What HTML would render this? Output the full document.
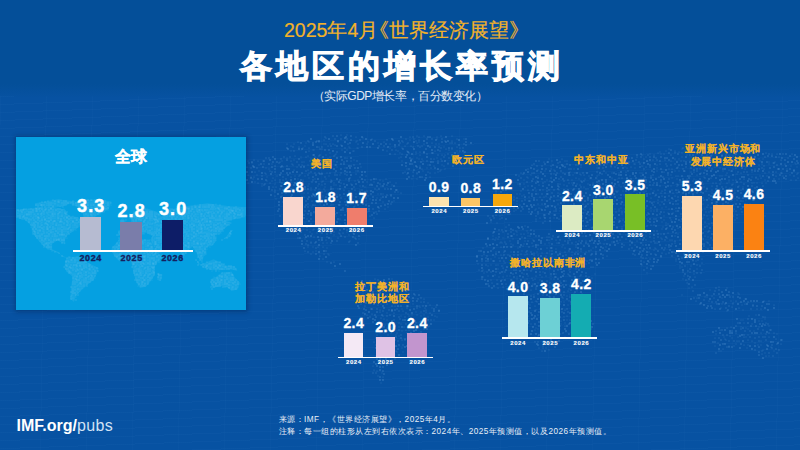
<!DOCTYPE html>
<html><head><meta charset="utf-8">
<style>
html,body{margin:0;padding:0;}
body{width:800px;height:450px;overflow:hidden;position:relative;background:#044f99;font-family:"Liberation Sans",sans-serif;}
.abs{position:absolute;}
.sub{position:absolute;left:284px;top:17.5px;color:#f2b22a;font-size:19.5px;line-height:24px;white-space:nowrap;-webkit-text-stroke:0.2px #f2b22a;}
.lb{margin-left:-9px;}
.title{position:absolute;left:0;width:800px;top:45.7px;text-align:center;color:#fff;font-size:32px;line-height:40px;font-weight:bold;letter-spacing:4px;text-indent:4px;white-space:nowrap;-webkit-text-stroke:1px #fff;}
.sub2{position:absolute;left:0;width:800px;top:87.8px;text-align:center;color:#e4ecf6;font-size:12px;letter-spacing:-0.45px;line-height:16px;white-space:nowrap;}
.gbox{position:absolute;left:16px;top:137px;width:230px;height:173px;background:#05a0e1;box-shadow:0 0 4px 1.5px rgba(0,25,70,0.35);}
.gt{position:absolute;left:16px;width:230px;top:146.5px;text-align:center;color:#fff;font-size:16px;line-height:20px;font-weight:bold;-webkit-text-stroke:0.2px #fff;}
.gbar{position:absolute;width:21.7px;}
.gnum{position:absolute;width:50px;text-align:center;color:#fff;font-size:18px;line-height:20px;font-weight:bold;letter-spacing:1.1px;-webkit-text-stroke:0.4px #fff;}
.gyr{position:absolute;width:40px;text-align:center;color:#14215f;font-size:9px;line-height:10px;font-weight:bold;letter-spacing:0.6px;-webkit-text-stroke:0.35px #14215f;}
.pt{position:absolute;width:120px;text-align:center;color:#f2b22a;font-size:10px;line-height:12px;font-weight:bold;letter-spacing:0.9px;white-space:nowrap;-webkit-text-stroke:0.1px #f2b22a;}
.bar{position:absolute;}
.num{position:absolute;width:40px;text-align:center;color:#fff;font-size:14px;line-height:16px;font-weight:bold;letter-spacing:0.4px;-webkit-text-stroke:0.3px #fff;}
.yr{position:absolute;width:30px;text-align:center;color:#fff;font-size:6px;line-height:8px;font-weight:bold;letter-spacing:0.6px;-webkit-text-stroke:0.1px #fff;}
.base{position:absolute;height:1.7px;background:#fff;}
.imf{position:absolute;left:16.5px;top:416px;color:#fff;font-size:16px;line-height:20px;white-space:nowrap;}
.imf b{font-weight:bold;}
.imf span{color:#d2e2f5;letter-spacing:0.4px;}
.fn{position:absolute;left:278.5px;color:#e8eef7;font-size:8.2px;line-height:10px;letter-spacing:0.5px;white-space:nowrap;}
</style></head><body>
<div class="abs" style="left:0;top:84px;width:800px;height:366px;background:linear-gradient(180deg,rgba(7,82,162,0) 0px,#0752a2 14px,#0752a2 100%)"></div>
<div class="abs" style="left:0;top:96px;width:800px;height:354px;background:repeating-linear-gradient(178deg,rgba(140,200,255,0.028) 0px,rgba(140,200,255,0.028) 1px,rgba(0,0,0,0) 1px,rgba(0,0,0,0) 8px),repeating-linear-gradient(91deg,rgba(140,200,255,0.02) 0px,rgba(140,200,255,0.02) 1px,rgba(0,0,0,0) 1px,rgba(0,0,0,0) 46px)"></div>
<svg class="abs" style="left:0;top:0" width="800" height="450"><path d="M347 135h0M437 137h0M357 141h0M363 138h0M410 140h0M416 141h0M437 139h0M464 139h0M294 144h0M306 143h0M324 144h0M330 144h0M338 142h0M356 142h0M367 144h0M368 142h0M378 143h0M407 144h0M419 142h0M436 144h0M439 144h0M303 148h0M305 146h0M349 147h0M350 148h0M357 148h0M390 148h0M444 147h0M712 147h0M736 148h0M291 151h0M313 150h0M314 150h0M322 149h0M342 150h0M347 150h0M354 151h0M387 151h0M398 151h0M457 151h0M660 152h0M666 151h0M679 152h0M682 149h0M715 151h0M721 150h0M730 149h0M326 155h0M330 153h0M335 155h0M336 154h0M400 153h0M416 154h0M458 154h0M464 153h0M650 154h0M661 154h0M682 153h0M687 155h0M697 154h0M712 155h0M716 155h0M718 153h0M735 154h0M744 153h0M311 159h0M330 157h0M399 158h0M417 158h0M419 159h0M437 158h0M460 157h0M549 159h0M646 157h0M679 159h0M682 157h0M691 157h0M701 157h0M747 157h0M759 159h0M763 159h0M779 157h0M263 161h0M282 161h0M294 160h0M304 162h0M316 162h0M334 161h0M354 160h0M402 161h0M423 161h0M552 161h0M565 161h0M567 161h0M671 161h0M696 161h0M716 161h0M719 161h0M722 161h0M760 161h0M769 162h0M773 163h0M775 162h0M795 163h0M252 163h0M259 165h0M264 164h0M272 164h0M308 165h0M311 164h0M329 166h0M428 165h0M442 165h0M597 165h0M607 164h0M634 164h0M657 165h0M715 165h0M722 165h0M733 164h0M754 165h0M769 164h0M791 166h0M796 164h0M266 168h0M269 169h0M283 167h0M337 167h0M345 168h0M361 167h0M407 169h0M422 169h0M427 168h0M441 170h0M445 169h0M538 170h0M551 169h0M554 170h0M574 169h0M597 168h0M611 167h0M625 167h0M635 168h0M657 168h0M669 169h0M700 169h0M715 167h0M720 168h0M733 169h0M787 169h0M797 167h0M243 172h0M259 171h0M309 173h0M322 173h0M327 173h0M335 173h0M356 171h0M423 171h0M435 173h0M438 172h0M545 171h0M570 172h0M575 173h0M606 173h0M612 173h0M619 173h0M640 173h0M657 171h0M675 171h0M679 171h0M723 171h0M752 172h0M765 173h0M257 175h0M267 177h0M277 176h0M295 176h0M305 176h0M329 176h0M340 175h0M366 176h0M417 174h0M519 176h0M531 175h0M538 176h0M554 174h0M573 175h0M581 175h0M589 176h0M597 176h0M599 175h0M630 176h0M641 176h0M671 175h0M676 176h0M678 176h0M720 176h0M722 176h0M726 175h0M737 174h0M752 177h0M760 176h0M767 176h0M790 175h0M241 180h0M253 179h0M267 181h0M298 179h0M309 178h0M315 179h0M326 179h0M346 179h0M355 181h0M358 180h0M383 181h0M386 179h0M412 179h0M417 179h0M524 180h0M528 178h0M537 181h0M547 180h0M572 180h0M579 179h0M672 178h0M677 179h0M765 180h0M779 179h0M248 183h0M255 182h0M262 184h0M272 181h0M275 184h0M291 182h0M297 182h0M309 184h0M322 182h0M334 183h0M351 184h0M367 182h0M371 184h0M374 182h0M396 183h0M518 184h0M524 184h0M545 182h0M572 183h0M588 184h0M637 183h0M680 182h0M689 182h0M703 184h0M721 182h0M729 182h0M741 182h0M754 183h0M757 183h0M766 183h0M262 186h0M287 188h0M298 185h0M302 187h0M318 186h0M322 185h0M325 187h0M334 185h0M336 185h0M360 186h0M365 187h0M392 185h0M502 187h0M520 186h0M525 187h0M528 186h0M564 185h0M619 185h0M621 187h0M629 185h0M642 188h0M671 186h0M684 186h0M697 186h0M702 187h0M704 187h0M717 188h0M730 188h0M739 186h0M743 187h0M302 191h0M311 190h0M319 189h0M325 191h0M338 189h0M360 190h0M377 190h0M498 189h0M521 191h0M536 191h0M543 190h0M559 190h0M588 189h0M596 189h0M607 189h0M618 191h0M623 191h0M644 191h0M651 189h0M654 191h0M701 190h0M706 191h0M712 190h0M720 189h0M725 191h0M741 190h0M302 193h0M304 193h0M334 194h0M337 195h0M356 194h0M378 194h0M383 194h0M398 192h0M499 194h0M507 194h0M517 194h0M520 194h0M524 195h0M538 194h0M565 193h0M582 193h0M602 195h0M629 194h0M677 193h0M733 194h0M735 193h0M747 194h0M760 193h0M282 196h0M295 198h0M323 196h0M329 198h0M345 199h0M351 196h0M360 198h0M368 196h0M377 198h0M381 198h0M522 196h0M544 197h0M582 197h0M625 197h0M655 196h0M682 198h0M276 199h0M338 200h0M359 202h0M366 201h0M370 199h0M383 202h0M394 201h0M499 201h0M509 202h0M559 200h0M601 200h0M678 200h0M731 201h0M746 200h0M284 204h0M295 205h0M320 204h0M333 205h0M351 204h0M355 206h0M517 204h0M564 203h0M599 205h0M624 205h0M640 205h0M660 205h0M685 204h0M692 204h0M287 207h0M301 207h0M312 207h0M322 207h0M336 207h0M342 209h0M363 209h0M388 207h0M508 209h0M536 209h0M541 209h0M548 207h0M571 207h0M574 209h0M593 207h0M615 209h0M630 207h0M644 209h0M646 208h0M662 208h0M666 207h0M669 209h0M705 209h0M726 207h0M323 213h0M367 212h0M506 213h0M516 210h0M560 211h0M585 210h0M644 210h0M651 211h0M654 211h0M668 213h0M687 213h0M697 213h0M706 212h0M709 212h0M729 210h0M285 214h0M298 217h0M336 216h0M500 216h0M502 215h0M576 216h0M578 216h0M597 214h0M607 215h0M612 216h0M622 214h0M640 214h0M664 216h0M697 215h0M707 216h0M718 214h0M725 216h0M765 216h0M285 219h0M299 219h0M301 219h0M307 219h0M334 220h0M490 218h0M500 219h0M544 217h0M554 218h0M593 219h0M608 219h0M619 220h0M626 218h0M636 219h0M645 217h0M664 220h0M671 220h0M691 217h0M697 219h0M708 219h0M735 220h0M305 223h0M324 222h0M326 222h0M340 224h0M360 223h0M491 222h0M497 223h0M561 221h0M573 224h0M600 222h0M611 222h0M662 222h0M666 223h0M668 224h0M709 224h0M715 223h0M288 227h0M305 226h0M338 226h0M342 227h0M360 226h0M525 226h0M588 225h0M596 225h0M610 227h0M622 227h0M643 226h0M663 227h0M722 227h0M301 230h0M313 230h0M318 230h0M336 229h0M516 231h0M527 231h0M570 228h0M582 231h0M608 228h0M625 230h0M637 230h0M662 229h0M691 228h0M698 230h0M755 229h0M310 232h0M312 234h0M317 233h0M347 232h0M517 232h0M528 233h0M572 233h0M590 235h0M597 235h0M599 234h0M607 232h0M618 233h0M628 232h0M678 234h0M696 232h0M702 234h0M314 237h0M334 235h0M349 235h0M493 236h0M496 238h0M503 238h0M517 235h0M528 236h0M547 237h0M574 235h0M583 236h0M626 235h0M634 238h0M635 237h0M646 236h0M661 238h0M675 236h0M691 237h0M708 237h0M718 237h0M305 239h0M311 242h0M331 239h0M350 241h0M359 239h0M498 239h0M501 242h0M510 241h0M513 239h0M525 241h0M533 240h0M576 242h0M579 241h0M608 239h0M612 242h0M680 240h0M693 242h0M721 239h0M327 243h0M500 243h0M502 243h0M511 244h0M524 244h0M545 244h0M549 243h0M683 244h0M689 243h0M308 247h0M313 247h0M327 248h0M512 247h0M518 248h0M556 249h0M562 247h0M569 249h0M593 248h0M606 247h0M656 249h0M718 249h0M313 252h0M316 251h0M496 252h0M511 252h0M522 251h0M537 252h0M542 253h0M550 251h0M560 252h0M572 252h0M576 252h0M578 251h0M586 252h0M635 250h0M649 252h0M679 252h0M328 254h0M329 255h0M482 256h0M501 255h0M525 255h0M538 255h0M551 255h0M666 254h0M491 259h0M495 257h0M511 257h0M528 259h0M543 258h0M551 257h0M571 258h0M592 260h0M327 262h0M510 263h0M526 262h0M583 261h0M676 261h0M693 261h0M696 261h0M478 264h0M488 266h0M491 265h0M498 265h0M578 265h0M586 264h0M642 265h0M651 266h0M680 266h0M682 267h0M691 266h0M483 270h0M498 269h0M527 270h0M536 269h0M546 269h0M569 270h0M680 268h0M697 269h0M484 273h0M524 274h0M543 272h0M556 274h0M595 274h0M647 273h0M694 274h0M483 277h0M488 276h0M495 275h0M499 277h0M503 277h0M507 276h0M510 276h0M517 277h0M528 276h0M542 277h0M551 276h0M580 276h0M684 276h0M370 281h0M381 281h0M392 279h0M396 281h0M502 280h0M512 280h0M517 279h0M540 280h0M551 279h0M566 281h0M590 280h0M683 279h0M374 284h0M498 284h0M511 284h0M514 284h0M517 285h0M538 283h0M557 285h0M687 283h0M371 286h0M374 287h0M387 286h0M522 288h0M528 288h0M553 286h0M569 289h0M579 287h0M689 288h0M727 288h0M378 289h0M387 290h0M524 291h0M527 290h0M548 291h0M577 291h0M710 290h0M398 295h0M405 294h0M534 295h0M567 296h0M570 295h0M682 295h0M738 293h0M366 297h0M370 299h0M381 299h0M384 298h0M402 299h0M574 299h0M578 297h0M705 297h0M707 297h0M722 298h0M745 299h0M409 302h0M428 303h0M524 303h0M537 302h0M543 301h0M553 302h0M561 302h0M564 302h0M569 301h0M575 303h0M731 301h0M733 303h0M769 301h0M370 304h0M381 304h0M413 304h0M419 306h0M530 305h0M546 306h0M568 305h0M722 304h0M733 304h0M742 305h0M402 309h0M432 308h0M525 310h0M536 310h0M540 309h0M542 309h0M572 308h0M721 308h0M743 310h0M387 313h0M408 314h0M416 312h0M421 312h0M576 313h0M727 311h0M367 315h0M401 316h0M412 315h0M417 315h0M421 316h0M424 315h0M428 317h0M437 317h0M564 317h0M572 315h0M749 316h0M756 315h0M387 320h0M409 321h0M434 320h0M547 319h0M549 320h0M567 320h0M575 318h0M585 320h0M741 320h0M743 320h0M759 321h0M762 321h0M765 319h0M381 322h0M385 325h0M388 324h0M401 324h0M420 322h0M531 324h0M550 324h0M561 324h0M565 323h0M744 323h0M752 324h0M399 327h0M414 326h0M428 327h0M536 328h0M549 327h0M572 326h0M741 327h0M746 328h0M759 327h0M769 326h0M380 329h0M392 329h0M394 330h0M402 331h0M535 330h0M538 329h0M560 329h0M748 329h0M754 331h0M380 333h0M384 333h0M388 335h0M391 333h0M396 335h0M397 333h0M407 333h0M408 334h0M544 333h0M556 335h0M716 334h0M748 335h0M777 334h0M381 337h0M391 338h0M399 336h0M532 338h0M535 337h0M538 336h0M542 337h0M724 337h0M732 338h0M746 337h0M385 342h0M552 343h0M718 343h0M755 343h0M557 345h0M715 346h0M734 346h0M736 344h0M748 345h0M758 345h0M761 345h0M402 348h0M546 348h0M549 350h0M747 348h0M763 350h0M397 352h0M403 352h0M719 351h0M721 351h0M765 353h0M774 351h0M394 356h0M769 356h0M392 360h0M377 371h0M382 373h0M378 376h0M381 383h0" stroke="#9fd4ff" stroke-opacity="0.15" stroke-width="1.3" stroke-linecap="round" fill="none"/><path d="M341 135h0M356 137h0M410 137h0M417 136h0M419 137h0M424 136h0M441 136h0M452 136h0M324 140h0M326 138h0M372 139h0M406 139h0M414 139h0M419 140h0M452 141h0M457 139h0M287 144h0M298 142h0M309 142h0M319 142h0M326 144h0M333 144h0M341 145h0M358 144h0M384 142h0M390 144h0M403 142h0M417 143h0M424 144h0M432 143h0M450 143h0M455 143h0M291 146h0M299 147h0M309 148h0M319 147h0M328 146h0M335 145h0M358 148h0M402 148h0M405 146h0M411 146h0M413 147h0M422 146h0M457 147h0M460 148h0M714 148h0M309 151h0M353 151h0M396 150h0M407 151h0M416 152h0M420 152h0M435 151h0M446 149h0M449 150h0M452 149h0M460 151h0M669 149h0M675 151h0M685 151h0M689 149h0M693 150h0M704 152h0M734 151h0M737 151h0M395 154h0M402 154h0M420 155h0M442 155h0M445 155h0M642 155h0M654 155h0M658 153h0M664 154h0M707 155h0M729 155h0M741 154h0M746 154h0M766 153h0M772 154h0M777 154h0M792 154h0M287 158h0M295 156h0M301 157h0M306 157h0M308 156h0M347 158h0M401 157h0M422 159h0M434 159h0M441 159h0M466 156h0M562 159h0M623 158h0M629 158h0M637 157h0M644 159h0M675 159h0M695 157h0M697 158h0M733 156h0M751 156h0M788 158h0M248 161h0M254 160h0M258 161h0M280 162h0M291 161h0M302 162h0M322 161h0M351 161h0M448 163h0M457 162h0M459 161h0M544 162h0M547 162h0M615 162h0M653 160h0M665 160h0M681 161h0M684 161h0M781 160h0M292 164h0M293 165h0M302 165h0M304 166h0M326 164h0M335 165h0M420 166h0M434 166h0M444 166h0M532 165h0M551 166h0M578 165h0M617 165h0M629 164h0M635 164h0M642 166h0M660 164h0M705 164h0M759 165h0M762 164h0M785 164h0M247 167h0M251 168h0M294 170h0M297 167h0M308 170h0M313 168h0M328 167h0M431 168h0M528 169h0M581 167h0M627 168h0M631 167h0M646 167h0M672 169h0M678 167h0M729 170h0M736 168h0M745 169h0M746 167h0M755 169h0M764 169h0M239 172h0M255 172h0M265 173h0M270 171h0M405 172h0M413 172h0M428 172h0M430 173h0M440 171h0M521 173h0M532 173h0M563 173h0M626 172h0M642 173h0M664 172h0M685 171h0M691 172h0M694 172h0M701 173h0M727 173h0M731 171h0M741 173h0M769 172h0M776 172h0M782 173h0M798 173h0M244 175h0M248 175h0M251 177h0M254 177h0M266 174h0M291 177h0M299 176h0M300 175h0M356 174h0M360 177h0M407 174h0M430 177h0M523 174h0M527 177h0M570 175h0M580 174h0M584 175h0M659 177h0M697 175h0M704 177h0M756 177h0M776 176h0M783 176h0M797 174h0M273 178h0M275 180h0M283 180h0M303 180h0M323 181h0M331 180h0M332 181h0M380 180h0M576 178h0M581 181h0M585 179h0M590 178h0M612 178h0M619 178h0M622 178h0M641 181h0M644 179h0M687 179h0M694 179h0M696 180h0M711 178h0M729 180h0M733 180h0M736 180h0M744 179h0M758 179h0M761 178h0M791 180h0M796 180h0M798 178h0M258 183h0M270 183h0M341 183h0M390 182h0M550 181h0M560 184h0M569 183h0M577 184h0M593 183h0M599 183h0M625 184h0M677 184h0M682 182h0M693 181h0M713 183h0M716 183h0M720 184h0M727 183h0M733 184h0M752 183h0M762 183h0M273 187h0M276 187h0M308 186h0M311 188h0M381 186h0M539 185h0M580 185h0M584 187h0M600 185h0M610 186h0M624 186h0M633 187h0M677 186h0M687 186h0M694 187h0M707 188h0M712 186h0M726 187h0M275 190h0M293 189h0M315 190h0M324 189h0M344 190h0M355 190h0M367 191h0M528 190h0M581 191h0M586 189h0M592 189h0M616 191h0M646 191h0M658 190h0M662 191h0M672 190h0M678 190h0M697 191h0M729 189h0M747 189h0M308 193h0M327 194h0M330 195h0M352 195h0M401 193h0M496 193h0M558 193h0M560 194h0M578 192h0M624 195h0M631 194h0M650 194h0M661 193h0M673 193h0M712 193h0M719 195h0M750 193h0M275 196h0M304 197h0M391 196h0M514 197h0M529 197h0M540 197h0M546 196h0M571 198h0M593 197h0M619 198h0M651 198h0M662 196h0M675 196h0M689 197h0M700 197h0M709 198h0M723 197h0M726 196h0M748 196h0M755 196h0M312 201h0M334 200h0M354 200h0M517 201h0M557 200h0M581 200h0M596 201h0M607 201h0M614 201h0M654 202h0M658 200h0M662 202h0M669 200h0M673 199h0M697 200h0M704 200h0M722 200h0M737 200h0M743 201h0M315 205h0M331 205h0M340 205h0M520 205h0M538 204h0M542 204h0M558 204h0M571 205h0M583 204h0M606 203h0M610 203h0M635 206h0M676 204h0M684 205h0M703 204h0M708 205h0M747 204h0M750 204h0M285 209h0M298 207h0M329 207h0M359 208h0M367 209h0M385 209h0M510 207h0M539 208h0M560 208h0M564 208h0M590 209h0M605 207h0M607 208h0M611 207h0M619 209h0M621 208h0M636 207h0M657 209h0M676 208h0M693 208h0M697 207h0M707 207h0M711 208h0M715 207h0M718 209h0M724 207h0M734 209h0M302 211h0M320 213h0M335 211h0M351 213h0M376 212h0M500 213h0M504 212h0M509 212h0M514 211h0M535 210h0M554 211h0M570 211h0M594 213h0M597 211h0M605 211h0M616 212h0M619 211h0M664 212h0M673 213h0M676 211h0M690 212h0M724 212h0M736 211h0M291 214h0M320 214h0M341 215h0M349 215h0M358 215h0M370 216h0M496 215h0M508 214h0M563 214h0M589 215h0M604 214h0M686 217h0M737 215h0M761 214h0M340 219h0M360 218h0M374 218h0M536 219h0M540 218h0M559 219h0M623 220h0M647 219h0M702 219h0M703 218h0M716 220h0M727 219h0M737 218h0M763 219h0M284 223h0M352 222h0M536 221h0M545 221h0M588 222h0M608 221h0M628 223h0M637 222h0M681 221h0M683 221h0M700 224h0M705 222h0M719 222h0M313 226h0M330 226h0M347 227h0M353 226h0M506 227h0M599 227h0M607 225h0M624 225h0M631 227h0M651 225h0M654 225h0M666 225h0M698 225h0M700 225h0M707 226h0M713 225h0M716 227h0M303 229h0M307 230h0M314 229h0M579 229h0M586 230h0M611 228h0M614 230h0M640 228h0M643 229h0M678 228h0M701 231h0M703 229h0M718 230h0M725 229h0M339 233h0M340 234h0M343 233h0M353 233h0M359 232h0M503 232h0M521 234h0M524 234h0M578 233h0M602 234h0M633 232h0M661 234h0M668 233h0M684 234h0M708 232h0M338 238h0M522 237h0M530 236h0M549 237h0M559 236h0M579 236h0M592 238h0M654 238h0M667 238h0M686 236h0M696 237h0M702 237h0M705 236h0M722 238h0M326 240h0M493 239h0M495 240h0M505 242h0M549 240h0M556 240h0M586 241h0M620 240h0M626 239h0M637 241h0M651 242h0M662 239h0M670 240h0M672 240h0M707 242h0M713 240h0M719 241h0M323 243h0M513 245h0M532 243h0M557 243h0M563 245h0M576 245h0M604 244h0M618 243h0M624 245h0M635 245h0M643 245h0M657 243h0M666 245h0M675 243h0M714 244h0M318 247h0M323 247h0M483 248h0M493 249h0M501 247h0M523 246h0M533 246h0M538 249h0M547 248h0M565 248h0M576 247h0M655 248h0M679 249h0M691 249h0M305 251h0M504 252h0M526 252h0M534 253h0M565 252h0M581 251h0M591 250h0M605 250h0M654 250h0M662 253h0M682 251h0M697 253h0M699 252h0M311 254h0M320 256h0M324 254h0M484 254h0M508 255h0M521 254h0M527 254h0M546 256h0M572 255h0M607 256h0M655 254h0M697 254h0M323 259h0M499 258h0M532 258h0M552 257h0M556 258h0M561 259h0M564 260h0M567 258h0M574 258h0M582 259h0M585 260h0M599 259h0M646 258h0M650 259h0M661 257h0M676 259h0M685 258h0M702 259h0M334 262h0M504 261h0M505 263h0M527 263h0M531 261h0M542 261h0M551 261h0M564 262h0M579 261h0M587 261h0M644 262h0M649 262h0M702 263h0M496 265h0M520 267h0M536 265h0M539 265h0M574 265h0M591 267h0M593 267h0M697 265h0M479 270h0M503 268h0M570 269h0M576 269h0M487 272h0M491 272h0M568 274h0M690 272h0M532 278h0M536 276h0M546 276h0M569 275h0M589 277h0M592 278h0M695 277h0M375 279h0M491 280h0M497 280h0M525 280h0M527 279h0M533 280h0M535 279h0M554 279h0M560 281h0M365 285h0M389 284h0M390 283h0M492 283h0M506 284h0M533 284h0M542 282h0M545 284h0M552 284h0M376 288h0M385 288h0M498 288h0M503 287h0M515 288h0M518 287h0M536 287h0M550 287h0M692 287h0M719 287h0M531 290h0M546 292h0M552 290h0M568 291h0M363 294h0M370 296h0M376 294h0M390 294h0M396 296h0M402 294h0M543 295h0M549 296h0M574 294h0M582 294h0M712 296h0M739 294h0M374 298h0M392 299h0M395 297h0M405 298h0M424 299h0M527 299h0M557 299h0M563 298h0M697 298h0M714 298h0M363 301h0M390 302h0M407 301h0M421 302h0M532 302h0M536 301h0M546 303h0M696 301h0M709 301h0M736 301h0M764 301h0M361 304h0M365 306h0M378 305h0M387 304h0M395 306h0M430 305h0M436 307h0M535 306h0M560 304h0M725 304h0M745 304h0M774 305h0M380 310h0M420 307h0M425 308h0M426 310h0M439 310h0M554 308h0M565 310h0M574 307h0M715 309h0M732 307h0M739 308h0M757 309h0M761 309h0M372 314h0M380 312h0M394 313h0M403 311h0M426 312h0M430 313h0M525 314h0M544 313h0M551 313h0M555 313h0M383 316h0M409 316h0M435 316h0M528 316h0M538 315h0M556 315h0M567 316h0M765 317h0M381 318h0M384 319h0M412 319h0M561 321h0M570 320h0M394 324h0M399 323h0M423 325h0M576 322h0M766 323h0M387 328h0M404 327h0M420 327h0M425 326h0M429 326h0M565 326h0M590 326h0M727 328h0M731 327h0M384 330h0M406 330h0M409 330h0M546 329h0M720 330h0M377 335h0M419 333h0M545 334h0M553 333h0M560 334h0M589 334h0M736 333h0M761 333h0M766 334h0M774 333h0M385 338h0M388 338h0M409 339h0M553 336h0M565 337h0M715 338h0M725 339h0M730 336h0M738 337h0M744 337h0M769 337h0M776 339h0M374 342h0M402 340h0M408 342h0M419 340h0M726 340h0M737 341h0M739 341h0M748 340h0M752 341h0M761 341h0M379 345h0M389 346h0M549 345h0M729 346h0M744 345h0M781 344h0M539 348h0M543 348h0M723 349h0M771 347h0M384 352h0M396 351h0M542 351h0M762 351h0M376 356h0M762 354h0M766 356h0M373 366h0M374 370h0M383 377h0" stroke="#9fd4ff" stroke-opacity="0.28" stroke-width="1.2" stroke-linecap="round" fill="none"/><path d="M325 137h0M333 136h0M413 137h0M308 141h0M317 141h0M335 139h0M341 139h0M347 139h0M360 140h0M375 141h0M387 140h0M402 141h0M427 139h0M432 139h0M442 139h0M445 141h0M348 144h0M400 143h0M408 143h0M452 143h0M464 144h0M293 147h0M322 147h0M331 146h0M345 148h0M362 147h0M379 146h0M384 146h0M395 147h0M418 146h0M420 147h0M439 147h0M441 148h0M452 148h0M463 148h0M683 148h0M687 148h0M693 147h0M703 147h0M719 147h0M294 151h0M320 149h0M337 152h0M392 150h0M440 151h0M707 152h0M749 151h0M313 155h0M320 155h0M409 153h0M424 153h0M427 154h0M433 153h0M438 155h0M448 154h0M648 155h0M671 155h0M675 153h0M690 155h0M722 155h0M726 155h0M750 153h0M769 154h0M783 154h0M266 158h0M269 158h0M281 159h0M284 157h0M290 157h0M315 157h0M319 156h0M334 156h0M345 158h0M412 159h0M431 159h0M444 157h0M449 158h0M452 156h0M463 157h0M641 157h0M650 157h0M656 158h0M714 159h0M739 157h0M765 157h0M297 162h0M310 161h0M337 162h0M344 162h0M357 161h0M427 161h0M438 161h0M442 161h0M454 163h0M539 161h0M560 162h0M619 161h0M626 162h0M629 162h0M636 160h0M639 162h0M657 160h0M733 162h0M243 165h0M249 163h0M275 166h0M279 163h0M287 166h0M299 165h0M315 164h0M322 164h0M354 165h0M360 164h0M448 164h0M534 164h0M537 166h0M542 166h0M558 163h0M567 164h0M576 165h0M581 165h0M600 165h0M611 166h0M614 163h0M640 164h0M666 164h0M667 166h0M671 165h0M675 164h0M691 165h0M693 165h0M697 165h0M702 164h0M727 163h0M739 164h0M744 166h0M748 164h0M764 166h0M777 165h0M240 169h0M257 168h0M320 167h0M323 168h0M330 167h0M546 169h0M569 169h0M571 169h0M603 168h0M615 167h0M644 169h0M650 167h0M683 169h0M686 167h0M691 168h0M697 169h0M705 170h0M709 168h0M712 169h0M762 168h0M272 172h0M275 172h0M306 171h0M311 172h0M315 173h0M319 173h0M330 173h0M341 173h0M347 172h0M358 171h0M403 173h0M417 173h0M534 173h0M555 171h0M557 173h0M561 171h0M583 173h0M597 172h0M604 171h0M628 171h0M697 171h0M738 172h0M744 172h0M747 172h0M781 173h0M262 176h0M283 177h0M308 175h0M325 177h0M335 175h0M337 175h0M345 174h0M347 175h0M413 176h0M422 177h0M551 174h0M561 177h0M602 174h0M651 176h0M653 175h0M663 177h0M668 175h0M690 176h0M748 175h0M794 176h0M280 180h0M286 179h0M313 180h0M340 180h0M350 178h0M365 180h0M371 180h0M376 179h0M521 178h0M533 179h0M551 178h0M559 179h0M568 180h0M669 179h0M705 178h0M756 178h0M769 178h0M774 179h0M786 179h0M265 184h0M280 182h0M282 183h0M303 182h0M312 182h0M319 184h0M325 184h0M344 184h0M349 181h0M380 184h0M527 182h0M543 183h0M558 184h0M564 181h0M584 181h0M642 182h0M646 182h0M650 182h0M654 183h0M661 182h0M698 184h0M708 181h0M744 184h0M768 181h0M264 185h0M282 186h0M290 185h0M331 187h0M340 186h0M354 187h0M387 185h0M535 188h0M559 187h0M567 186h0M573 185h0M581 187h0M636 187h0M639 186h0M650 185h0M653 185h0M660 186h0M678 185h0M690 185h0M722 187h0M732 185h0M752 186h0M755 188h0M763 186h0M272 190h0M280 189h0M286 190h0M333 189h0M349 191h0M362 190h0M375 189h0M385 189h0M388 189h0M397 190h0M496 191h0M547 191h0M549 190h0M554 190h0M610 190h0M634 191h0M665 190h0M670 191h0M694 189h0M752 191h0M757 190h0M275 192h0M286 193h0M322 192h0M340 195h0M361 194h0M381 194h0M387 195h0M395 192h0M542 194h0M548 194h0M552 193h0M597 193h0M601 194h0M617 192h0M637 194h0M644 193h0M665 193h0M697 193h0M721 193h0M730 194h0M762 194h0M341 198h0M511 196h0M517 198h0M561 198h0M563 197h0M574 197h0M621 198h0M638 196h0M643 198h0M669 196h0M678 197h0M693 196h0M703 198h0M716 197h0M732 197h0M283 202h0M306 201h0M345 202h0M392 202h0M506 201h0M514 200h0M522 201h0M525 200h0M530 201h0M537 200h0M577 201h0M626 199h0M627 201h0M635 200h0M642 201h0M650 202h0M712 200h0M716 202h0M741 201h0M306 205h0M308 204h0M313 205h0M348 206h0M391 204h0M499 204h0M511 204h0M515 206h0M569 206h0M588 204h0M643 205h0M653 205h0M658 203h0M678 204h0M716 204h0M723 204h0M725 206h0M728 203h0M292 208h0M308 207h0M326 208h0M352 209h0M354 207h0M373 209h0M379 208h0M504 209h0M514 208h0M523 209h0M556 209h0M583 209h0M625 209h0M651 208h0M682 208h0M688 208h0M689 209h0M730 208h0M741 209h0M284 212h0M288 213h0M297 211h0M305 211h0M369 211h0M379 211h0M521 211h0M529 212h0M556 211h0M563 212h0M583 213h0M600 211h0M608 213h0M622 212h0M640 211h0M648 213h0M657 211h0M702 210h0M711 211h0M727 213h0M733 211h0M742 212h0M280 216h0M286 214h0M293 216h0M301 214h0M308 214h0M322 214h0M377 214h0M488 216h0M510 214h0M536 216h0M538 214h0M545 215h0M554 215h0M568 216h0M600 214h0M626 215h0M629 214h0M647 215h0M660 214h0M681 214h0M690 217h0M693 215h0M704 215h0M713 216h0M733 216h0M311 219h0M320 220h0M349 220h0M355 218h0M361 218h0M494 218h0M502 218h0M550 218h0M564 218h0M580 218h0M590 220h0M628 218h0M631 220h0M640 219h0M654 219h0M656 219h0M670 218h0M719 220h0M729 219h0M288 221h0M293 221h0M311 224h0M330 222h0M334 221h0M363 222h0M543 223h0M579 222h0M596 221h0M632 222h0M639 222h0M643 222h0M693 221h0M712 223h0M723 221h0M731 221h0M761 223h0M291 225h0M297 227h0M315 225h0M362 225h0M509 225h0M575 226h0M583 226h0M593 227h0M617 227h0M630 226h0M640 226h0M647 226h0M673 227h0M685 225h0M691 227h0M692 225h0M719 226h0M290 229h0M293 230h0M297 228h0M323 229h0M333 229h0M356 231h0M358 229h0M499 230h0M502 230h0M513 230h0M534 231h0M592 228h0M595 229h0M617 228h0M628 230h0M646 230h0M651 231h0M654 231h0M657 231h0M667 228h0M682 229h0M709 231h0M305 235h0M327 234h0M334 232h0M493 233h0M508 234h0M511 232h0M514 234h0M585 233h0M624 232h0M643 235h0M650 234h0M676 233h0M686 232h0M724 233h0M726 234h0M744 234h0M298 238h0M327 237h0M345 237h0M355 238h0M499 237h0M536 236h0M553 236h0M570 236h0M596 236h0M604 237h0M611 237h0M639 236h0M650 237h0M658 237h0M711 238h0M307 241h0M337 241h0M349 242h0M356 239h0M528 241h0M560 240h0M565 241h0M568 241h0M570 240h0M605 240h0M632 242h0M640 239h0M646 240h0M654 241h0M665 240h0M675 241h0M687 241h0M691 242h0M306 244h0M308 245h0M311 243h0M315 243h0M331 243h0M358 243h0M506 244h0M538 245h0M572 243h0M588 244h0M600 243h0M630 245h0M655 243h0M672 244h0M692 244h0M696 244h0M708 243h0M710 245h0M316 248h0M487 246h0M529 247h0M552 248h0M629 249h0M632 248h0M647 248h0M665 248h0M669 247h0M698 249h0M702 248h0M708 249h0M712 248h0M308 252h0M326 251h0M479 251h0M527 251h0M531 252h0M547 253h0M552 251h0M569 251h0M589 251h0M596 252h0M664 250h0M674 252h0M687 250h0M703 252h0M487 256h0M504 255h0M514 255h0M534 255h0M566 255h0M591 255h0M603 255h0M633 254h0M635 255h0M642 255h0M669 253h0M672 256h0M684 254h0M486 258h0M523 259h0M590 260h0M641 257h0M643 258h0M682 258h0M691 259h0M698 260h0M482 261h0M486 261h0M488 261h0M493 261h0M500 261h0M515 262h0M535 262h0M539 262h0M545 263h0M553 261h0M567 262h0M589 263h0M596 263h0M641 261h0M486 265h0M502 266h0M524 266h0M549 266h0M567 266h0M685 266h0M700 266h0M511 268h0M514 270h0M516 270h0M532 269h0M558 270h0M581 268h0M644 270h0M647 268h0M688 271h0M690 269h0M702 270h0M482 271h0M496 272h0M505 272h0M513 274h0M522 273h0M531 271h0M540 272h0M564 274h0M570 272h0M586 273h0M683 272h0M697 273h0M701 273h0M540 275h0M556 277h0M570 276h0M581 275h0M586 276h0M688 276h0M378 280h0M482 279h0M547 281h0M575 279h0M579 279h0M686 280h0M382 283h0M399 284h0M488 284h0M497 284h0M520 283h0M550 283h0M561 283h0M563 285h0M571 283h0M575 284h0M587 284h0M695 285h0M393 288h0M401 286h0M406 287h0M509 287h0M547 289h0M558 287h0M561 286h0M570 286h0M584 286h0M716 288h0M392 291h0M396 291h0M403 290h0M536 289h0M540 292h0M556 291h0M560 292h0M564 292h0M571 290h0M693 291h0M715 291h0M719 290h0M387 295h0M415 295h0M524 294h0M531 296h0M553 293h0M564 295h0M579 295h0M729 295h0M397 297h0M418 299h0M421 298h0M544 299h0M550 297h0M562 297h0M570 297h0M694 298h0M730 297h0M733 297h0M359 300h0M368 301h0M380 301h0M384 303h0M399 302h0M424 302h0M704 300h0M712 302h0M716 302h0M723 302h0M748 302h0M392 306h0M423 306h0M524 305h0M551 306h0M571 304h0M576 306h0M700 304h0M717 304h0M729 306h0M753 306h0M753 305h0M762 306h0M371 309h0M377 309h0M389 310h0M397 309h0M407 308h0M417 308h0M527 310h0M550 310h0M558 308h0M567 309h0M726 308h0M751 309h0M363 313h0M383 311h0M399 311h0M406 313h0M424 311h0M529 312h0M555 312h0M562 312h0M568 312h0M370 317h0M387 316h0M390 315h0M399 317h0M405 317h0M546 316h0M763 317h0M394 320h0M400 319h0M423 320h0M431 320h0M529 321h0M553 318h0M589 319h0M748 319h0M406 324h0M416 323h0M541 323h0M569 324h0M589 323h0M593 324h0M738 323h0M768 324h0M586 326h0M736 326h0M399 330h0M421 332h0M424 329h0M553 331h0M585 330h0M591 329h0M716 331h0M722 330h0M732 331h0M741 329h0M745 331h0M750 331h0M758 329h0M763 330h0M770 330h0M771 330h0M401 335h0M416 334h0M422 335h0M563 333h0M723 335h0M727 335h0M744 335h0M769 333h0M419 339h0M424 337h0M546 338h0M719 338h0M750 337h0M755 338h0M759 337h0M763 337h0M765 337h0M377 341h0M381 341h0M391 342h0M398 341h0M405 340h0M535 342h0M538 342h0M557 342h0M729 341h0M734 341h0M759 341h0M766 340h0M782 340h0M376 345h0M393 346h0M403 345h0M543 346h0M553 344h0M772 345h0M777 344h0M381 349h0M387 348h0M392 347h0M727 347h0M755 350h0M772 348h0M776 349h0M779 350h0M378 352h0M716 353h0M769 353h0M777 353h0M383 357h0M773 356h0M383 360h0M395 359h0M387 362h0M390 364h0M373 373h0M376 373h0" stroke="#9fd4ff" stroke-opacity="0.42" stroke-width="1.0" stroke-linecap="round" fill="none"/><path d="M337 136h0M351 136h0M428 137h0M430 137h0M351 140h0M371 140h0M393 140h0M399 141h0M466 139h0M301 143h0M313 143h0M316 142h0M350 143h0M381 144h0M386 144h0M427 143h0M442 142h0M459 145h0M466 142h0M287 148h0M317 147h0M337 146h0M370 147h0M399 145h0M430 147h0M435 147h0M449 148h0M466 145h0M708 146h0M721 147h0M739 148h0M306 152h0M325 150h0M329 150h0M383 150h0M403 149h0M426 149h0M438 150h0M465 152h0M671 150h0M697 152h0M700 150h0M712 151h0M726 150h0M390 154h0M407 155h0M432 153h0M637 155h0M641 154h0M669 153h0M678 154h0M693 155h0M702 155h0M703 153h0M736 154h0M786 154h0M273 157h0M299 159h0M328 159h0M410 158h0M632 158h0M654 157h0M661 157h0M665 158h0M667 158h0M705 158h0M708 158h0M711 156h0M718 159h0M768 156h0M772 156h0M776 157h0M782 158h0M790 156h0M794 159h0M241 161h0M252 162h0M264 161h0M270 160h0M273 162h0M277 162h0M287 160h0M319 161h0M326 160h0M330 162h0M342 160h0M347 161h0M411 160h0M421 162h0M433 162h0M536 161h0M609 162h0M660 161h0M669 160h0M686 162h0M692 160h0M699 162h0M705 161h0M711 161h0M740 162h0M754 162h0M767 162h0M785 160h0M797 161h0M241 164h0M253 166h0M261 164h0M269 164h0M282 166h0M336 165h0M341 164h0M344 164h0M351 166h0M406 166h0M412 164h0M430 165h0M438 163h0M453 166h0M545 164h0M553 165h0M570 165h0M650 165h0M679 165h0M682 165h0M711 165h0M718 165h0M737 164h0M750 165h0M774 163h0M798 163h0M263 167h0M272 167h0M275 169h0M281 167h0M301 167h0M304 167h0M315 169h0M341 169h0M347 168h0M355 168h0M409 169h0M414 170h0M417 167h0M435 168h0M526 170h0M534 169h0M565 167h0M640 167h0M661 169h0M677 168h0M694 170h0M723 169h0M752 170h0M770 168h0M774 167h0M778 169h0M783 169h0M790 169h0M794 170h0M281 173h0M287 173h0M290 173h0M302 173h0M336 171h0M350 172h0M524 173h0M537 171h0M541 172h0M614 173h0M646 173h0M652 171h0M654 172h0M662 172h0M668 173h0M704 173h0M732 171h0M755 171h0M758 171h0M773 172h0M792 173h0M794 171h0M239 175h0M288 175h0M313 177h0M316 175h0M320 174h0M322 174h0M409 177h0M420 177h0M426 175h0M516 175h0M545 176h0M565 174h0M569 175h0M592 175h0M608 175h0M616 174h0M619 175h0M635 176h0M645 177h0M682 176h0M688 176h0M692 174h0M707 174h0M729 177h0M763 176h0M780 175h0M786 176h0M245 181h0M251 178h0M258 179h0M266 180h0M426 178h0M542 179h0M563 179h0M596 178h0M615 180h0M627 179h0M631 179h0M636 178h0M651 178h0M661 180h0M683 179h0M689 178h0M700 179h0M716 178h0M740 179h0M749 179h0M751 180h0M316 182h0M331 182h0M356 184h0M363 182h0M378 183h0M384 184h0M532 181h0M536 183h0M582 182h0M597 182h0M623 183h0M640 184h0M657 183h0M668 182h0M673 183h0M687 183h0M702 182h0M776 183h0M294 185h0M352 185h0M363 186h0M370 185h0M377 186h0M495 187h0M505 188h0M532 186h0M543 186h0M547 188h0M549 185h0M558 186h0M590 185h0M593 185h0M602 188h0M606 185h0M668 186h0M717 186h0M738 187h0M757 187h0M283 190h0M291 189h0M305 189h0M308 189h0M352 189h0M379 189h0M503 190h0M506 190h0M533 190h0M540 190h0M558 189h0M573 190h0M574 189h0M626 191h0M629 190h0M641 190h0M676 190h0M690 191h0M707 189h0M743 189h0M282 193h0M292 195h0M294 192h0M298 192h0M313 194h0M344 194h0M349 193h0M360 192h0M365 192h0M371 194h0M391 195h0M501 192h0M529 193h0M532 194h0M575 195h0M586 193h0M594 193h0M607 193h0M611 195h0M621 195h0M647 194h0M656 195h0M683 193h0M689 193h0M693 194h0M701 192h0M703 193h0M709 195h0M714 194h0M741 193h0M745 195h0M753 192h0M297 199h0M309 197h0M312 196h0M320 197h0M326 197h0M334 198h0M349 198h0M356 197h0M363 196h0M366 198h0M373 197h0M383 197h0M495 197h0M508 196h0M532 196h0M534 198h0M551 197h0M554 196h0M579 197h0M596 197h0M635 197h0M647 196h0M686 196h0M697 197h0M711 196h0M730 197h0M739 198h0M743 198h0M288 201h0M301 201h0M308 199h0M327 200h0M340 202h0M351 202h0M376 200h0M380 200h0M389 201h0M529 201h0M542 200h0M550 199h0M571 201h0M585 201h0M588 200h0M591 201h0M633 201h0M665 200h0M676 201h0M688 201h0M694 202h0M701 202h0M732 200h0M754 200h0M288 205h0M290 203h0M324 205h0M346 205h0M358 205h0M366 205h0M372 203h0M376 203h0M381 206h0M385 205h0M388 204h0M534 205h0M561 203h0M574 204h0M579 206h0M586 206h0M598 205h0M605 205h0M621 204h0M630 206h0M633 203h0M647 206h0M652 203h0M664 204h0M673 204h0M701 204h0M717 205h0M736 204h0M745 204h0M279 209h0M305 207h0M320 208h0M333 209h0M343 208h0M522 207h0M546 207h0M585 207h0M633 207h0M655 207h0M278 211h0M290 212h0M311 213h0M314 212h0M337 213h0M343 210h0M347 211h0M363 212h0M374 213h0M538 212h0M545 210h0M568 213h0M573 212h0M578 210h0M625 212h0M629 212h0M637 212h0M661 212h0M678 211h0M683 211h0M715 212h0M304 215h0M326 216h0M329 214h0M335 214h0M352 215h0M354 215h0M363 216h0M366 214h0M372 215h0M493 216h0M544 215h0M549 214h0M561 216h0M573 216h0M592 214h0M631 216h0M636 214h0M649 214h0M657 215h0M672 214h0M683 217h0M287 220h0M291 218h0M295 220h0M322 219h0M330 220h0M338 219h0M366 219h0M506 219h0M557 218h0M575 219h0M582 218h0M650 219h0M679 220h0M682 219h0M694 220h0M723 218h0M757 218h0M299 224h0M317 223h0M345 223h0M349 222h0M355 222h0M564 221h0M575 222h0M583 221h0M587 222h0M605 223h0M619 222h0M620 221h0M625 222h0M648 221h0M650 222h0M654 222h0M686 223h0M758 221h0M302 226h0M307 227h0M323 226h0M528 227h0M571 227h0M579 226h0M602 225h0M636 225h0M683 226h0M705 227h0M754 225h0M326 230h0M340 230h0M347 230h0M506 231h0M511 229h0M523 229h0M531 230h0M576 230h0M589 230h0M605 229h0M622 229h0M672 229h0M675 230h0M687 229h0M695 230h0M710 228h0M715 229h0M722 229h0M294 232h0M298 234h0M301 232h0M320 232h0M322 233h0M499 234h0M549 234h0M594 233h0M613 234h0M620 234h0M636 233h0M658 234h0M664 234h0M673 232h0M689 234h0M703 233h0M712 234h0M718 232h0M322 238h0M341 236h0M353 237h0M359 236h0M488 238h0M508 237h0M511 236h0M512 236h0M525 238h0M539 236h0M542 238h0M599 238h0M622 237h0M628 236h0M644 238h0M666 237h0M693 238h0M716 237h0M302 241h0M316 242h0M319 240h0M518 241h0M534 241h0M547 240h0M552 239h0M582 241h0M592 240h0M617 241h0M630 241h0M703 239h0M552 244h0M559 243h0M568 243h0M581 243h0M586 243h0M594 243h0M607 244h0M622 244h0M632 243h0M641 243h0M646 245h0M660 245h0M669 245h0M680 244h0M686 243h0M702 244h0M704 244h0M304 248h0M507 247h0M520 247h0M536 247h0M581 249h0M584 246h0M596 247h0M603 248h0M622 247h0M644 249h0M650 248h0M662 248h0M671 246h0M686 247h0M704 246h0M481 251h0M491 251h0M505 251h0M518 252h0M640 252h0M643 251h0M658 251h0M670 250h0M316 254h0M493 255h0M496 254h0M510 256h0M518 255h0M532 254h0M552 254h0M558 255h0M575 254h0M578 254h0M581 256h0M592 254h0M647 255h0M651 254h0M656 255h0M695 254h0M477 257h0M518 260h0M603 258h0M693 260h0M331 263h0M477 261h0M494 261h0M556 261h0M657 262h0M687 262h0M689 262h0M482 265h0M511 266h0M513 267h0M517 266h0M529 267h0M544 265h0M556 264h0M559 265h0M563 266h0M571 265h0M653 266h0M345 271h0M506 270h0M520 271h0M543 268h0M550 268h0M554 271h0M564 271h0M579 270h0M694 271h0M500 273h0M502 272h0M516 273h0M527 274h0M545 273h0M551 274h0M574 274h0M582 272h0M685 274h0M482 277h0M514 277h0M523 277h0M555 277h0M690 277h0M389 279h0M485 280h0M505 280h0M511 280h0M558 279h0M689 279h0M363 284h0M375 284h0M383 284h0M393 284h0M566 285h0M581 283h0M689 284h0M394 287h0M489 286h0M492 288h0M494 286h0M507 289h0M524 286h0M542 287h0M576 287h0M370 290h0M373 292h0M380 291h0M383 291h0M542 291h0M575 292h0M722 292h0M729 292h0M372 294h0M414 294h0M419 295h0M527 296h0M538 294h0M556 294h0M698 295h0M707 295h0M714 294h0M719 294h0M362 299h0M377 298h0M524 297h0M534 297h0M547 299h0M554 297h0M567 299h0M699 298h0M720 297h0M738 297h0M740 298h0M366 303h0M395 301h0M402 302h0M413 301h0M417 301h0M528 302h0M557 301h0M571 302h0M718 300h0M741 302h0M751 301h0M401 306h0M408 306h0M417 306h0M437 305h0M528 304h0M558 307h0M708 306h0M711 306h0M757 306h0M767 304h0M769 304h0M359 308h0M364 309h0M366 310h0M372 309h0M395 310h0M414 309h0M434 309h0M712 308h0M720 309h0M728 310h0M377 312h0M392 311h0M434 311h0M531 313h0M539 312h0M564 313h0M570 313h0M375 315h0M376 317h0M382 315h0M432 315h0M541 315h0M548 315h0M554 315h0M560 317h0M759 315h0M403 320h0M421 321h0M428 320h0M534 318h0M564 320h0M373 322h0M411 325h0M413 322h0M427 324h0M535 324h0M539 322h0M558 322h0M586 323h0M740 323h0M748 323h0M760 324h0M763 324h0M384 327h0M391 327h0M410 326h0M539 326h0M544 326h0M552 327h0M560 326h0M743 328h0M751 326h0M756 326h0M765 325h0M427 329h0M551 331h0M590 332h0M736 331h0M426 334h0M551 335h0M569 334h0M752 333h0M376 338h0M396 337h0M401 338h0M405 339h0M416 337h0M551 338h0M560 338h0M386 342h0M395 340h0M417 342h0M544 341h0M713 342h0M715 342h0M721 340h0M773 342h0M781 340h0M384 346h0M399 345h0M545 344h0M723 344h0M741 344h0M767 345h0M384 349h0M398 349h0M409 348h0M555 347h0M729 347h0M732 347h0M759 347h0M387 352h0M392 351h0M759 352h0M389 356h0M759 355h0M377 359h0M380 359h0M381 364h0M383 367h0M383 371h0M384 374h0M380 377h0" stroke="#9fd4ff" stroke-opacity="0.6" stroke-width="1.0" stroke-linecap="round" fill="none"/><path d="M346 137h0M362 137h0M401 137h0M446 137h0M311 139h0M319 141h0M329 139h0M338 141h0M345 138h0M366 139h0M392 139h0M424 141h0M436 140h0M448 141h0M459 140h0M345 142h0M363 143h0M373 144h0M395 145h0M414 142h0M446 142h0M471 143h0M313 145h0M342 146h0M367 147h0M378 148h0M388 147h0M428 146h0M696 148h0M700 147h0M288 149h0M299 149h0M302 149h0M333 151h0M345 152h0M408 152h0M414 149h0M424 152h0M432 150h0M463 151h0M720 151h0M745 151h0M751 151h0M314 155h0M350 153h0M412 154h0M452 155h0M455 153h0M754 153h0M758 155h0M763 154h0M780 154h0M795 155h0M275 159h0M323 157h0M337 158h0M341 157h0M351 158h0M406 157h0M427 157h0M457 157h0M625 159h0M673 158h0M686 157h0M722 156h0M727 157h0M730 157h0M737 159h0M744 158h0M755 157h0M797 157h0M244 161h0M313 162h0M406 163h0M411 161h0M415 162h0M431 162h0M445 161h0M548 162h0M557 160h0M608 162h0M621 160h0M633 161h0M644 163h0M647 161h0M650 160h0M677 162h0M690 162h0M709 162h0M726 161h0M730 160h0M735 162h0M745 160h0M748 160h0M752 161h0M762 162h0M788 162h0M792 162h0M320 165h0M349 166h0M402 165h0M410 164h0M416 166h0M423 164h0M562 165h0M563 166h0M604 165h0M622 165h0M626 164h0M648 164h0M655 164h0M686 164h0M709 163h0M729 165h0M781 164h0M786 166h0M243 167h0M254 167h0M287 169h0M289 169h0M334 169h0M350 168h0M358 168h0M420 168h0M438 169h0M531 168h0M542 169h0M557 167h0M560 168h0M578 169h0M599 168h0M606 167h0M618 168h0M623 168h0M654 169h0M666 170h0M725 169h0M742 168h0M759 169h0M779 169h0M247 172h0M252 172h0M262 173h0M283 171h0M293 172h0M297 172h0M345 171h0M362 172h0M365 172h0M408 173h0M419 172h0M528 172h0M550 171h0M569 173h0M577 173h0M587 173h0M600 173h0M621 172h0M633 173h0M636 173h0M672 172h0M684 171h0M707 171h0M711 171h0M716 172h0M718 171h0M763 171h0M787 171h0M271 174h0M280 175h0M351 175h0M362 175h0M536 177h0M543 174h0M556 175h0M610 177h0M621 175h0M626 175h0M633 174h0M643 175h0M661 176h0M700 174h0M712 176h0M714 175h0M733 175h0M742 177h0M744 177h0M769 177h0M773 175h0M247 180h0M262 179h0M291 180h0M295 179h0M301 180h0M318 179h0M337 179h0M349 179h0M362 179h0M374 179h0M407 179h0M425 180h0M518 180h0M538 178h0M554 180h0M556 178h0M591 178h0M599 181h0M602 180h0M606 180h0M627 178h0M646 180h0M653 180h0M656 179h0M664 179h0M680 180h0M709 179h0M720 180h0M722 179h0M725 179h0M775 181h0M784 178h0M252 182h0M287 182h0M295 183h0M300 182h0M339 182h0M359 182h0M388 183h0M499 184h0M520 184h0M538 182h0M552 182h0M574 183h0M603 184h0M606 182h0M612 183h0M615 184h0M618 182h0M628 183h0M633 181h0M665 183h0M737 182h0M748 181h0M773 181h0M269 187h0M281 186h0M305 187h0M316 188h0M345 187h0M347 185h0M372 185h0M383 186h0M394 186h0M500 187h0M552 187h0M576 186h0M596 187h0M614 186h0M647 188h0M657 185h0M666 187h0M748 186h0M269 189h0M298 191h0M331 189h0M340 189h0M371 191h0M391 189h0M396 190h0M523 189h0M564 190h0M568 190h0M579 189h0M600 190h0M603 189h0M637 190h0M684 191h0M686 189h0M716 189h0M723 189h0M732 189h0M738 191h0M271 195h0M278 194h0M314 195h0M319 193h0M373 192h0M536 194h0M547 194h0M566 194h0M571 194h0M590 195h0M614 194h0M640 193h0M653 193h0M670 192h0M679 192h0M686 194h0M727 195h0M281 197h0M286 198h0M291 197h0M302 197h0M315 196h0M337 197h0M386 197h0M394 198h0M398 198h0M525 197h0M558 196h0M569 197h0M584 196h0M588 198h0M600 196h0M605 198h0M607 197h0M610 197h0M615 197h0M627 196h0M632 197h0M659 197h0M665 197h0M672 198h0M718 196h0M737 197h0M751 196h0M279 202h0M289 202h0M294 202h0M297 202h0M316 201h0M318 202h0M322 200h0M329 200h0M347 201h0M362 200h0M373 200h0M534 200h0M547 201h0M554 201h0M563 201h0M569 200h0M576 200h0M603 200h0M610 200h0M617 200h0M622 202h0M639 202h0M647 201h0M682 202h0M691 200h0M707 200h0M717 202h0M726 202h0M753 200h0M279 205h0M297 205h0M302 203h0M327 204h0M339 205h0M363 204h0M369 206h0M504 204h0M506 203h0M524 204h0M527 206h0M531 205h0M545 204h0M548 206h0M552 206h0M592 204h0M613 204h0M617 204h0M670 203h0M689 203h0M698 205h0M712 203h0M733 205h0M740 204h0M293 207h0M316 209h0M347 209h0M369 209h0M378 207h0M500 209h0M518 208h0M529 209h0M532 207h0M555 207h0M569 208h0M578 207h0M595 209h0M599 209h0M640 209h0M672 209h0M679 208h0M701 208h0M738 207h0M743 207h0M293 210h0M309 211h0M327 212h0M330 211h0M341 210h0M354 212h0M358 211h0M532 212h0M542 210h0M550 212h0M588 212h0M612 212h0M634 211h0M694 212h0M720 212h0M311 215h0M316 216h0M345 215h0M531 214h0M555 215h0M582 216h0M587 214h0M613 215h0M619 215h0M644 217h0M653 214h0M669 214h0M676 216h0M699 214h0M714 217h0M723 216h0M729 216h0M304 218h0M317 218h0M328 218h0M345 220h0M350 217h0M491 220h0M545 218h0M569 219h0M571 220h0M586 218h0M596 220h0M600 220h0M604 219h0M610 220h0M615 218h0M661 218h0M676 219h0M688 219h0M713 217h0M289 224h0M300 221h0M309 221h0M318 222h0M337 222h0M487 223h0M550 221h0M568 222h0M594 221h0M614 222h0M657 221h0M672 222h0M675 222h0M689 222h0M698 221h0M726 223h0M293 225h0M319 227h0M326 225h0M333 225h0M346 225h0M354 225h0M518 227h0M522 227h0M586 226h0M614 225h0M656 226h0M670 226h0M677 226h0M680 227h0M759 226h0M331 230h0M344 229h0M352 231h0M495 229h0M519 228h0M600 231h0M633 229h0M666 229h0M750 231h0M331 233h0M354 234h0M494 232h0M531 234h0M534 234h0M574 232h0M582 233h0M611 233h0M640 234h0M646 232h0M654 235h0M692 232h0M717 232h0M300 238h0M306 237h0M308 236h0M311 236h0M318 237h0M329 238h0M558 237h0M569 238h0M586 236h0M590 235h0M607 235h0M614 238h0M618 237h0M672 236h0M678 237h0M683 236h0M322 240h0M332 241h0M488 239h0M520 239h0M539 240h0M541 241h0M590 241h0M595 241h0M599 241h0M614 242h0M643 240h0M659 242h0M683 241h0M698 239h0M701 240h0M715 241h0M302 244h0M319 245h0M356 245h0M486 244h0M490 245h0M493 244h0M497 245h0M518 243h0M521 245h0M527 244h0M536 245h0M541 243h0M578 244h0M598 244h0M610 245h0M615 245h0M649 245h0M720 245h0M494 248h0M504 247h0M511 247h0M541 249h0M551 248h0M570 249h0M578 248h0M589 246h0M601 247h0M609 249h0M637 247h0M640 248h0M676 246h0M684 248h0M694 247h0M715 248h0M319 252h0M324 251h0M484 252h0M488 252h0M499 252h0M514 252h0M556 252h0M600 250h0M607 251h0M634 251h0M647 252h0M672 252h0M689 252h0M693 251h0M709 251h0M477 256h0M541 256h0M560 254h0M563 256h0M585 254h0M596 254h0M601 254h0M639 254h0M661 256h0M676 253h0M678 256h0M686 255h0M689 255h0M319 259h0M326 257h0M482 259h0M488 259h0M502 258h0M506 258h0M512 258h0M521 259h0M534 259h0M539 258h0M545 260h0M577 259h0M596 259h0M654 259h0M658 260h0M679 259h0M516 262h0M519 262h0M561 262h0M570 262h0M576 261h0M592 261h0M599 263h0M648 261h0M654 262h0M680 262h0M682 263h0M335 266h0M340 264h0M507 267h0M533 266h0M545 265h0M554 267h0M583 266h0M597 265h0M641 264h0M647 264h0M694 264h0M482 268h0M489 270h0M493 271h0M496 269h0M524 270h0M539 268h0M561 269h0M651 269h0M683 270h0M511 273h0M536 272h0M554 274h0M562 272h0M577 272h0M493 276h0M520 276h0M561 277h0M563 276h0M575 277h0M362 281h0M384 280h0M488 281h0M501 281h0M521 280h0M542 281h0M564 281h0M572 280h0M583 281h0M587 279h0M693 280h0M370 285h0M486 284h0M502 284h0M525 283h0M529 283h0M535 284h0M578 284h0M365 286h0M382 288h0M398 286h0M532 286h0M537 286h0M564 287h0M583 287h0M363 291h0M367 290h0M398 292h0M406 291h0M409 290h0M581 292h0M726 290h0M366 295h0M380 293h0M383 294h0M409 294h0M547 295h0M561 295h0M700 295h0M704 293h0M723 295h0M727 295h0M733 293h0M387 297h0M409 297h0M413 298h0M531 299h0M538 299h0M691 299h0M710 299h0M725 297h0M746 299h0M374 300h0M378 301h0M387 301h0M549 300h0M701 303h0M726 303h0M744 301h0M754 301h0M757 301h0M763 302h0M358 306h0M374 304h0M383 306h0M398 306h0M407 306h0M426 306h0M539 304h0M542 304h0M553 306h0M564 305h0M704 305h0M719 304h0M738 304h0M747 304h0M384 308h0M392 310h0M410 310h0M530 308h0M546 309h0M562 309h0M707 308h0M736 309h0M765 308h0M768 310h0M774 308h0M365 314h0M369 312h0M412 313h0M439 311h0M535 311h0M546 313h0M394 316h0M532 315h0M535 316h0M576 316h0M587 317h0M368 318h0M373 319h0M375 320h0M392 321h0M405 320h0M415 321h0M532 319h0M537 319h0M543 319h0M556 318h0M591 321h0M737 319h0M752 319h0M755 320h0M390 324h0M431 324h0M528 323h0M546 322h0M554 324h0M570 323h0M755 322h0M382 327h0M395 326h0M402 327h0M415 325h0M533 327h0M545 328h0M557 327h0M567 326h0M592 327h0M719 328h0M734 328h0M762 326h0M378 329h0M387 331h0M414 331h0M416 330h0M532 331h0M542 329h0M557 329h0M565 329h0M566 331h0M713 332h0M725 330h0M730 331h0M767 332h0M411 333h0M531 334h0M536 334h0M539 335h0M720 333h0M730 333h0M732 333h0M742 335h0M755 333h0M757 333h0M412 338h0M557 338h0M740 336h0M774 337h0M412 340h0M545 342h0M551 340h0M559 341h0M743 341h0M771 342h0M778 343h0M396 346h0M407 346h0M409 345h0M537 344h0M538 345h0M720 345h0M725 344h0M750 346h0M755 346h0M768 346h0M376 348h0M394 347h0M405 347h0M719 349h0M740 348h0M752 349h0M767 349h0M380 352h0M545 351h0M380 356h0M392 354h0M399 355h0M386 359h0M763 358h0M374 362h0M376 364h0M383 363h0M377 366h0M380 367h0M387 365h0M380 370h0M380 380h0M383 380h0" stroke="#9fd4ff" stroke-opacity="0.22" stroke-width="1.9" stroke-linecap="round" fill="none"/></svg>
<div class="sub">2025年4月<span class="lb">《</span>世界经济展望》</div>
<div class="title">各地区的增长率预测</div>
<div class="sub2">（实际GDP增长率，百分数变化）</div>


<div class="gbox"></div>
<svg class="abs" style="left:0;top:0" width="800" height="450"><clipPath id="gc"><rect x="16" y="137" width="230" height="173"/></clipPath><g clip-path="url(#gc)"><polygon points="-1.0,212.5 5.0,208.6 20.0,209.4 35.0,207.8 53.8,207.1 65.0,209.4 68.8,215.6 78.5,217.2 83.8,223.4 75.5,229.7 68.0,234.4 65.0,239.8 65.0,244.5 57.5,240.6 52.2,243.7 52.2,249.2 59.0,252.3 62.8,257.0 66.5,257.8 60.5,254.6 56.0,252.3 46.2,248.4 42.5,245.3 37.2,239.0 32.0,232.8 31.2,225.8 25.2,220.3 14.0,217.2 6.5,219.5 0.5,217.2" fill="#ffffff" fill-opacity="0.07"/><polygon points="35.0,206.3 61.2,207.1 76.2,201.6 57.5,199.3 35.0,203.2" fill="#ffffff" fill-opacity="0.07"/><polygon points="83.8,217.2 93.5,217.2 108.5,209.4 111.5,201.6 98.8,199.3 80.0,200.0 71.0,203.9 81.5,209.4" fill="#ffffff" fill-opacity="0.07"/><polygon points="66.5,257.8 78.5,256.2 87.5,262.4 98.8,268.1 96.5,274.4 93.5,279.9 87.5,284.7 81.5,290.2 76.2,295.1 74.0,301.9 70.2,298.5 71.0,288.1 72.5,276.4 67.2,272.3 64.2,267.4 65.0,263.2" fill="#ffffff" fill-opacity="0.07"/><polygon points="117.5,235.9 118.2,230.5 123.5,229.7 121.2,226.6 126.5,224.2 131.0,221.9 131.0,219.5 128.8,215.6 134.0,212.5 138.5,209.4 147.5,208.6 156.5,211.7 162.5,217.2 162.5,228.1 155.0,232.0 146.0,232.8 141.5,235.1 136.2,234.4 134.0,229.7 128.8,230.5 125.0,234.4" fill="#ffffff" fill-opacity="0.07"/><polygon points="120.5,225.0 126.5,224.2 125.0,220.3 122.8,218.0 120.5,219.5" fill="#ffffff" fill-opacity="0.07"/><polygon points="128.8,218.8 132.5,218.0 138.5,217.2 143.8,213.3 140.0,209.4 134.0,211.7" fill="#ffffff" fill-opacity="0.07"/><polygon points="112.2,252.3 112.2,247.6 117.5,241.4 120.5,236.7 132.5,235.1 140.0,239.0 149.0,239.8 151.2,242.2 157.2,254.6 163.2,254.6 155.0,266.1 155.0,274.4 151.2,280.6 146.0,286.8 140.0,288.1 136.2,282.6 134.0,274.4 131.8,264.7 131.0,260.9 119.0,260.9 114.5,256.2" fill="#ffffff" fill-opacity="0.07"/><polygon points="158.0,273.0 162.5,274.4 161.0,281.2 157.2,279.9" fill="#ffffff" fill-opacity="0.07"/><polygon points="146.0,232.8 152.0,235.9 151.2,240.6 157.2,253.9 164.0,251.5 168.5,246.8 167.8,243.7 174.5,244.5 179.0,248.4 183.5,257.8 186.5,251.5 192.5,246.8 195.5,250.7 198.5,257.8 202.2,262.4 203.8,256.2 206.8,254.6 206.0,247.6 212.8,245.3 216.5,240.6 215.0,235.1 219.5,234.4 222.5,230.5 231.5,222.7 226.2,221.1 245.0,217.2 247.2,211.0 260.0,211.7 260.0,207.8 230.0,206.3 207.5,203.2 185.0,206.3 170.0,209.4 161.0,211.7 162.5,217.2 162.5,228.1 156.5,231.2" fill="#ffffff" fill-opacity="0.07"/><polygon points="222.5,239.8 230.0,236.7 231.5,232.0 233.8,229.7 230.0,231.2 226.2,236.7" fill="#ffffff" fill-opacity="0.07"/><polygon points="196.2,260.1 203.8,268.1 212.0,270.2 218.8,270.2 230.8,269.5 237.5,270.9 234.5,266.1 226.2,265.4 221.0,262.4 213.5,259.3 206.0,262.4 198.5,264.7" fill="#ffffff" fill-opacity="0.07"/><polygon points="210.5,279.2 216.5,276.4 222.5,272.3 227.8,272.3 231.5,271.6 234.5,277.1 239.8,282.6 237.5,289.5 231.5,290.9 228.5,288.1 222.5,286.1 212.0,288.1 210.5,283.3" fill="#ffffff" fill-opacity="0.07"/><polygon points="254.0,288.1 258.5,290.2 255.5,293.0 250.2,295.7 253.2,292.3" fill="#ffffff" fill-opacity="0.07"/><path d="M58 201h0M59 200h0M61 200h0M82 200h0M92 200h0M40 203h0M47 203h0M53 203h0M55 203h0M58 202h0M82 203h0M84 203h0M87 203h0M91 203h0M93 203h0M95 203h0M99 203h0M104 203h0M106 203h0M38 205h0M47 205h0M55 204h0M58 205h0M60 206h0M62 205h0M76 205h0M77 205h0M87 205h0M106 206h0M111 205h0M195 205h0M203 205h0M205 205h0M207 205h0M216 204h0M47 207h0M82 207h0M91 207h0M106 208h0M181 207h0M216 208h0M220 207h0M222 207h0M231 208h0M242 208h0M29 209h0M64 209h0M84 209h0M89 209h0M92 210h0M104 209h0M108 210h0M139 210h0M147 210h0M177 209h0M185 209h0M193 209h0M209 210h0M215 209h0M220 210h0M222 210h0M225 209h0M233 210h0M243 210h0M19 211h0M21 211h0M25 212h0M27 211h0M47 212h0M55 212h0M58 211h0M62 212h0M65 211h0M85 212h0M92 212h0M134 211h0M139 212h0M155 212h0M157 212h0M163 211h0M165 212h0M171 212h0M177 211h0M185 212h0M187 212h0M203 211h0M206 212h0M207 212h0M213 211h0M216 211h0M220 211h0M227 212h0M238 212h0M240 212h0M242 212h0M18 213h0M20 214h0M22 214h0M25 214h0M34 214h0M35 214h0M47 213h0M48 214h0M62 214h0M84 214h0M88 214h0M95 214h0M100 214h0M133 214h0M138 214h0M141 213h0M143 214h0M165 214h0M170 213h0M174 214h0M195 214h0M196 214h0M198 214h0M209 214h0M216 214h0M218 213h0M222 213h0M225 214h0M238 214h0M29 215h0M31 216h0M34 216h0M41 216h0M42 215h0M47 216h0M49 215h0M55 216h0M60 216h0M65 216h0M73 216h0M84 216h0M86 216h0M95 216h0M128 216h0M133 216h0M134 216h0M163 217h0M181 216h0M189 215h0M196 216h0M198 217h0M202 216h0M213 216h0M219 216h0M223 216h0M225 216h0M229 215h0M231 216h0M236 217h0M22 219h0M31 219h0M36 218h0M42 218h0M47 218h0M53 218h0M55 218h0M59 218h0M73 218h0M135 218h0M141 218h0M161 218h0M164 218h0M165 218h0M167 218h0M169 219h0M175 218h0M179 219h0M180 219h0M185 218h0M195 218h0M196 219h0M198 219h0M201 218h0M216 218h0M218 218h0M222 218h0M234 218h0M238 218h0M240 218h0M29 220h0M31 220h0M35 221h0M58 220h0M60 221h0M69 221h0M71 220h0M76 220h0M134 221h0M139 220h0M148 221h0M152 220h0M161 221h0M166 220h0M170 220h0M172 220h0M174 221h0M188 220h0M190 221h0M201 221h0M211 221h0M214 220h0M32 223h0M41 223h0M42 222h0M45 223h0M51 223h0M56 223h0M57 223h0M67 222h0M71 223h0M130 223h0M133 222h0M141 223h0M146 223h0M150 222h0M153 223h0M170 223h0M172 223h0M174 223h0M189 223h0M192 222h0M194 223h0M212 222h0M214 223h0M216 222h0M218 223h0M227 222h0M229 222h0M231 223h0M41 225h0M45 224h0M51 225h0M57 225h0M64 224h0M68 225h0M73 225h0M77 225h0M80 224h0M126 225h0M130 225h0M134 224h0M139 225h0M142 224h0M144 225h0M155 225h0M159 225h0M170 225h0M185 224h0M196 225h0M223 225h0M31 227h0M48 227h0M55 228h0M58 227h0M60 227h0M66 227h0M73 227h0M75 227h0M126 227h0M133 227h0M135 227h0M137 227h0M146 227h0M152 227h0M155 227h0M157 227h0M159 226h0M163 227h0M166 227h0M168 227h0M179 227h0M181 228h0M183 226h0M185 227h0M187 227h0M199 227h0M202 228h0M210 227h0M220 227h0M38 230h0M43 229h0M44 229h0M55 229h0M73 229h0M76 230h0M124 229h0M126 229h0M128 229h0M134 229h0M141 229h0M146 229h0M147 229h0M150 230h0M155 229h0M189 229h0M197 229h0M214 229h0M38 231h0M43 231h0M44 231h0M47 232h0M58 231h0M60 231h0M64 231h0M66 231h0M71 232h0M73 231h0M119 232h0M121 231h0M152 232h0M155 231h0M159 231h0M170 231h0M176 231h0M180 232h0M183 231h0M205 232h0M207 232h0M209 232h0M221 231h0M40 234h0M47 233h0M51 233h0M53 234h0M60 234h0M64 234h0M67 234h0M125 233h0M139 234h0M144 234h0M165 233h0M174 234h0M186 234h0M189 234h0M191 234h0M205 233h0M219 234h0M221 233h0M42 235h0M52 236h0M53 236h0M153 236h0M179 236h0M189 236h0M192 235h0M198 235h0M203 236h0M216 236h0M230 236h0M48 238h0M51 238h0M54 238h0M56 238h0M58 239h0M61 238h0M64 238h0M67 238h0M124 238h0M126 238h0M131 238h0M135 238h0M155 238h0M166 239h0M170 239h0M179 238h0M183 238h0M189 238h0M197 238h0M199 238h0M203 237h0M209 238h0M225 238h0M40 241h0M46 240h0M51 240h0M119 240h0M124 240h0M148 240h0M154 240h0M157 240h0M168 240h0M174 240h0M183 240h0M185 240h0M187 241h0M190 240h0M191 240h0M196 240h0M198 241h0M200 240h0M203 240h0M214 240h0M216 240h0M42 242h0M45 243h0M65 243h0M121 242h0M133 243h0M137 242h0M139 242h0M145 242h0M150 243h0M159 242h0M164 242h0M170 242h0M185 242h0M192 243h0M201 242h0M203 243h0M207 243h0M211 242h0M214 242h0M42 244h0M51 244h0M117 244h0M122 244h0M123 245h0M125 244h0M128 245h0M130 245h0M135 245h0M139 244h0M143 244h0M146 244h0M163 245h0M166 245h0M178 244h0M181 245h0M183 244h0M187 245h0M192 245h0M196 244h0M202 244h0M212 245h0M213 244h0M124 246h0M126 246h0M137 247h0M143 247h0M146 246h0M154 246h0M179 247h0M198 247h0M205 247h0M210 247h0M48 249h0M51 249h0M112 249h0M128 249h0M132 249h0M135 249h0M141 249h0M143 249h0M148 249h0M159 248h0M163 249h0M185 249h0M188 250h0M189 249h0M194 249h0M196 249h0M198 249h0M202 249h0M207 249h0M52 251h0M113 252h0M117 251h0M120 251h0M124 251h0M126 251h0M145 251h0M181 251h0M198 251h0M59 253h0M115 254h0M117 254h0M124 253h0M127 254h0M139 253h0M144 253h0M145 253h0M150 253h0M158 253h0M205 253h0M131 256h0M136 255h0M141 256h0M148 255h0M154 255h0M161 256h0M182 255h0M198 255h0M202 255h0M70 257h0M75 258h0M77 257h0M122 258h0M124 258h0M133 258h0M141 257h0M159 258h0M77 260h0M141 261h0M148 260h0M152 259h0M157 260h0M71 262h0M73 262h0M146 262h0M155 262h0M202 262h0M210 263h0M212 263h0M218 262h0M68 264h0M77 264h0M137 264h0M139 265h0M146 264h0M148 264h0M205 265h0M216 264h0M221 265h0M222 264h0M69 267h0M73 266h0M76 267h0M81 267h0M90 267h0M95 267h0M143 266h0M146 267h0M150 266h0M209 267h0M211 267h0M223 266h0M75 269h0M87 268h0M93 269h0M94 269h0M135 269h0M141 269h0M144 269h0M154 269h0M211 269h0M214 268h0M224 269h0M234 269h0M67 271h0M80 271h0M84 271h0M88 271h0M90 270h0M92 271h0M143 271h0M212 271h0M219 271h0M73 274h0M75 274h0M84 273h0M86 273h0M91 273h0M143 273h0M148 273h0M225 273h0M232 274h0M73 276h0M84 275h0M149 275h0M152 276h0M219 275h0M226 275h0M229 275h0M75 278h0M84 278h0M95 278h0M136 278h0M146 278h0M214 277h0M218 278h0M220 278h0M229 278h0M74 280h0M82 280h0M89 279h0M141 280h0M152 280h0M160 280h0M213 280h0M216 280h0M229 280h0M137 282h0M138 282h0M145 283h0M222 282h0M227 283h0M231 282h0M78 285h0M79 284h0M84 284h0M144 285h0M219 284h0M223 284h0M231 285h0M234 284h0M240 284h0M73 287h0M77 286h0M80 286h0M82 286h0M138 286h0M227 286h0M229 287h0M232 287h0M236 287h0M238 287h0M75 289h0M80 289h0M82 288h0M234 289h0M75 290h0M77 291h0M80 291h0M71 296h0M72 295h0M71 297h0M73 298h0M76 297h0" stroke="#e6f5ff" stroke-opacity="0.15" stroke-width="1.1" stroke-linecap="round" fill="none"/><path d="M48 201h0M53 200h0M64 201h0M73 201h0M85 200h0M95 200h0M98 201h0M99 201h0M101 200h0M103 201h0M105 201h0M42 202h0M49 203h0M51 203h0M62 203h0M64 203h0M66 203h0M71 203h0M79 203h0M88 203h0M111 203h0M36 205h0M44 205h0M49 205h0M51 205h0M53 206h0M64 205h0M66 205h0M82 205h0M93 205h0M94 205h0M98 205h0M101 206h0M104 205h0M211 205h0M220 205h0M36 208h0M49 207h0M53 207h0M63 207h0M92 208h0M95 207h0M97 207h0M104 207h0M189 208h0M192 207h0M196 207h0M203 207h0M207 207h0M214 207h0M225 208h0M227 208h0M234 208h0M236 207h0M21 210h0M26 209h0M31 209h0M36 209h0M53 210h0M58 209h0M60 209h0M62 210h0M86 209h0M91 209h0M95 209h0M100 209h0M102 210h0M106 209h0M145 209h0M179 209h0M183 210h0M188 209h0M197 209h0M200 210h0M202 210h0M207 210h0M211 209h0M213 209h0M227 209h0M236 209h0M238 209h0M33 212h0M36 211h0M40 211h0M43 211h0M44 212h0M49 212h0M51 212h0M53 212h0M87 211h0M90 211h0M95 212h0M99 212h0M104 212h0M145 212h0M161 211h0M167 212h0M174 211h0M194 212h0M197 211h0M198 212h0M200 212h0M211 212h0M224 211h0M31 214h0M42 213h0M44 214h0M52 214h0M59 213h0M93 214h0M98 214h0M130 214h0M136 214h0M155 214h0M157 214h0M168 214h0M178 213h0M181 214h0M183 214h0M187 214h0M192 214h0M202 214h0M205 214h0M212 214h0M221 214h0M231 213h0M241 214h0M242 214h0M18 216h0M27 215h0M36 216h0M44 217h0M51 216h0M58 216h0M88 216h0M91 215h0M92 216h0M137 216h0M141 216h0M143 215h0M159 215h0M165 216h0M167 216h0M177 217h0M183 216h0M191 216h0M194 216h0M201 216h0M207 216h0M209 216h0M216 216h0M29 219h0M33 218h0M38 218h0M51 218h0M64 218h0M77 218h0M93 218h0M132 218h0M143 218h0M152 218h0M159 219h0M189 218h0M207 219h0M220 218h0M227 218h0M229 218h0M231 218h0M235 218h0M26 220h0M34 220h0M38 220h0M40 221h0M65 220h0M126 220h0M133 220h0M144 221h0M150 220h0M163 221h0M168 220h0M192 220h0M194 221h0M196 220h0M205 220h0M227 220h0M229 220h0M231 220h0M46 223h0M49 222h0M53 222h0M62 222h0M64 223h0M68 223h0M75 223h0M77 223h0M122 223h0M123 223h0M126 223h0M136 222h0M140 223h0M148 223h0M155 223h0M158 222h0M163 222h0M181 223h0M183 223h0M185 223h0M187 222h0M196 222h0M198 222h0M203 223h0M205 222h0M207 222h0M220 223h0M223 222h0M225 223h0M38 225h0M42 225h0M53 224h0M59 225h0M61 225h0M70 225h0M75 225h0M82 224h0M121 224h0M128 225h0M137 225h0M145 225h0M150 224h0M152 224h0M157 225h0M163 225h0M167 225h0M172 224h0M179 224h0M181 224h0M187 225h0M202 225h0M211 224h0M218 224h0M221 225h0M227 225h0M229 225h0M34 227h0M35 227h0M38 227h0M44 227h0M64 227h0M69 228h0M70 227h0M77 227h0M121 226h0M124 227h0M128 226h0M139 227h0M143 226h0M148 227h0M150 227h0M170 228h0M190 227h0M194 226h0M197 227h0M208 228h0M214 227h0M216 228h0M222 227h0M224 228h0M40 230h0M51 230h0M58 229h0M60 229h0M64 229h0M66 229h0M130 229h0M133 229h0M152 229h0M160 229h0M163 229h0M165 230h0M169 229h0M177 229h0M178 229h0M185 230h0M187 229h0M194 229h0M199 229h0M202 229h0M205 229h0M207 229h0M209 230h0M212 230h0M216 229h0M218 229h0M40 231h0M49 231h0M53 232h0M68 232h0M124 232h0M125 232h0M136 231h0M141 232h0M143 231h0M145 231h0M148 231h0M150 231h0M161 231h0M165 231h0M167 231h0M179 231h0M187 232h0M189 231h0M192 231h0M194 232h0M201 232h0M202 231h0M211 231h0M214 231h0M223 231h0M33 234h0M42 234h0M44 233h0M120 234h0M122 233h0M141 233h0M148 233h0M150 233h0M154 233h0M161 234h0M168 234h0M172 233h0M176 233h0M183 233h0M187 234h0M194 233h0M201 233h0M203 233h0M209 234h0M211 234h0M216 234h0M231 234h0M38 236h0M49 236h0M57 236h0M60 235h0M64 235h0M66 236h0M121 236h0M132 236h0M154 235h0M159 235h0M163 236h0M165 236h0M170 235h0M181 236h0M186 236h0M196 236h0M209 236h0M214 236h0M40 238h0M42 238h0M46 238h0M59 239h0M119 238h0M132 238h0M152 238h0M163 238h0M167 238h0M172 238h0M181 238h0M185 238h0M188 239h0M194 237h0M201 239h0M208 238h0M211 238h0M214 238h0M216 238h0M44 241h0M56 240h0M122 240h0M133 240h0M134 240h0M141 240h0M143 241h0M150 240h0M152 240h0M159 240h0M161 240h0M163 240h0M166 240h0M170 240h0M172 241h0M177 241h0M180 240h0M194 241h0M206 241h0M207 240h0M209 240h0M53 242h0M117 243h0M120 243h0M124 243h0M128 242h0M130 242h0M134 242h0M142 242h0M143 243h0M148 243h0M152 242h0M156 242h0M161 242h0M165 242h0M176 243h0M179 242h0M194 242h0M197 243h0M198 243h0M205 243h0M46 244h0M133 245h0M137 245h0M148 245h0M150 244h0M152 244h0M158 245h0M167 245h0M194 244h0M204 244h0M208 245h0M210 244h0M44 247h0M51 247h0M115 247h0M130 247h0M132 247h0M139 246h0M141 246h0M148 246h0M151 247h0M159 247h0M161 247h0M181 247h0M184 247h0M196 247h0M202 246h0M115 249h0M119 248h0M124 249h0M140 249h0M146 249h0M155 249h0M156 249h0M166 249h0M200 249h0M55 252h0M115 252h0M122 252h0M131 251h0M139 251h0M144 251h0M150 252h0M153 252h0M163 251h0M184 251h0M200 252h0M205 252h0M120 254h0M121 254h0M126 254h0M134 253h0M137 254h0M141 253h0M148 254h0M181 253h0M200 253h0M202 253h0M115 256h0M117 256h0M119 255h0M124 256h0M126 256h0M139 255h0M150 255h0M153 255h0M157 256h0M67 258h0M69 257h0M80 258h0M117 257h0M120 258h0M126 258h0M127 258h0M130 257h0M139 258h0M145 258h0M148 257h0M150 258h0M183 258h0M200 258h0M202 258h0M68 261h0M71 260h0M72 260h0M82 260h0M84 260h0M119 259h0M130 260h0M134 260h0M137 260h0M139 260h0M150 260h0M69 262h0M75 262h0M82 262h0M137 262h0M159 262h0M207 262h0M214 263h0M71 265h0M80 265h0M82 264h0M84 264h0M86 265h0M89 264h0M90 265h0M154 264h0M201 265h0M203 264h0M207 265h0M209 264h0M211 264h0M214 265h0M224 264h0M64 267h0M135 267h0M136 266h0M140 267h0M214 267h0M218 267h0M225 267h0M226 267h0M234 267h0M68 269h0M73 268h0M77 269h0M80 269h0M89 269h0M90 269h0M137 269h0M150 269h0M210 269h0M216 269h0M220 269h0M227 269h0M231 268h0M236 269h0M70 272h0M73 270h0M136 271h0M141 271h0M146 271h0M148 271h0M150 271h0M153 271h0M154 272h0M71 273h0M79 273h0M89 273h0M137 274h0M140 273h0M141 273h0M152 273h0M222 273h0M75 276h0M77 276h0M82 275h0M89 276h0M91 275h0M95 276h0M135 275h0M137 275h0M139 275h0M144 276h0M148 275h0M154 275h0M161 275h0M222 276h0M225 275h0M232 275h0M233 275h0M77 277h0M80 278h0M82 277h0M88 277h0M93 278h0M139 277h0M141 278h0M152 278h0M161 278h0M225 277h0M231 278h0M84 280h0M86 280h0M91 280h0M139 280h0M145 280h0M148 280h0M150 280h0M212 280h0M222 280h0M236 280h0M73 282h0M75 282h0M77 282h0M81 282h0M84 282h0M86 282h0M88 282h0M90 282h0M143 282h0M148 282h0M238 282h0M73 284h0M75 284h0M87 284h0M145 284h0M212 284h0M213 285h0M220 284h0M236 285h0M75 287h0M84 286h0M141 286h0M143 286h0M145 286h0M211 287h0M225 287h0M233 287h0M73 289h0M232 289h0M78 293h0" stroke="#e6f5ff" stroke-opacity="0.28" stroke-width="1.0" stroke-linecap="round" fill="none"/><path d="M55 201h0M66 201h0M86 200h0M88 200h0M91 200h0M45 202h0M59 202h0M68 203h0M73 203h0M76 203h0M78 203h0M98 202h0M102 203h0M108 203h0M41 205h0M42 205h0M73 205h0M79 205h0M83 205h0M88 205h0M91 205h0M99 205h0M108 205h0M200 205h0M209 205h0M213 205h0M38 207h0M40 208h0M42 207h0M45 207h0M51 208h0M79 207h0M84 208h0M86 207h0M88 208h0M99 207h0M101 207h0M108 208h0M187 208h0M195 207h0M199 207h0M200 207h0M205 207h0M209 207h0M212 207h0M218 208h0M229 207h0M18 210h0M23 210h0M24 209h0M33 210h0M37 209h0M39 209h0M42 209h0M45 210h0M46 209h0M49 210h0M51 209h0M56 210h0M81 210h0M97 210h0M143 210h0M170 209h0M172 209h0M174 210h0M181 210h0M189 209h0M192 209h0M199 210h0M205 210h0M219 209h0M229 210h0M231 210h0M240 210h0M22 212h0M29 212h0M31 212h0M37 211h0M60 212h0M67 212h0M89 211h0M97 211h0M102 212h0M137 212h0M141 211h0M143 212h0M147 212h0M150 212h0M152 212h0M170 211h0M179 212h0M181 212h0M183 212h0M189 211h0M191 211h0M209 212h0M218 212h0M222 212h0M230 212h0M232 211h0M233 211h0M236 211h0M27 214h0M29 214h0M38 214h0M41 214h0M53 214h0M55 214h0M58 214h0M65 213h0M66 214h0M86 214h0M91 214h0M135 213h0M146 214h0M148 214h0M150 214h0M152 214h0M159 214h0M164 214h0M172 214h0M177 214h0M185 214h0M189 213h0M201 214h0M208 213h0M214 213h0M227 214h0M229 214h0M234 213h0M235 214h0M20 216h0M23 217h0M24 216h0M38 217h0M53 216h0M62 216h0M67 217h0M69 216h0M131 216h0M139 216h0M146 216h0M148 216h0M150 216h0M152 216h0M155 216h0M156 217h0M170 216h0M172 216h0M174 216h0M179 215h0M185 216h0M188 216h0M204 216h0M212 216h0M220 216h0M227 216h0M234 216h0M238 215h0M240 215h0M242 216h0M20 218h0M25 218h0M27 218h0M39 218h0M45 219h0M49 218h0M58 218h0M61 219h0M67 218h0M69 219h0M71 218h0M75 218h0M137 218h0M139 219h0M146 218h0M147 218h0M150 218h0M154 219h0M156 219h0M172 218h0M176 219h0M183 218h0M188 218h0M192 218h0M203 219h0M205 218h0M210 218h0M212 218h0M214 218h0M225 218h0M42 220h0M45 220h0M47 221h0M49 221h0M51 220h0M54 221h0M55 221h0M61 221h0M67 221h0M73 221h0M77 220h0M80 220h0M121 221h0M123 221h0M136 220h0M141 220h0M145 220h0M155 220h0M157 220h0M158 221h0M177 221h0M178 221h0M181 221h0M183 221h0M185 221h0M199 221h0M202 220h0M207 221h0M210 221h0M216 220h0M218 220h0M220 220h0M222 220h0M225 221h0M29 222h0M34 223h0M36 222h0M38 223h0M60 222h0M73 222h0M79 222h0M82 222h0M134 223h0M144 222h0M156 222h0M162 222h0M166 222h0M168 223h0M176 222h0M179 223h0M200 223h0M210 222h0M31 225h0M33 225h0M35 225h0M47 224h0M48 225h0M56 225h0M67 225h0M133 225h0M147 225h0M161 225h0M165 225h0M174 225h0M177 224h0M182 225h0M190 225h0M192 224h0M194 225h0M199 225h0M201 225h0M204 225h0M207 225h0M209 225h0M214 225h0M216 225h0M225 224h0M40 227h0M42 228h0M47 227h0M50 227h0M53 227h0M62 227h0M130 227h0M142 227h0M161 227h0M172 227h0M174 227h0M176 227h0M192 227h0M201 227h0M205 227h0M211 227h0M218 227h0M33 229h0M36 229h0M47 229h0M48 229h0M53 229h0M62 230h0M68 229h0M71 230h0M137 229h0M139 230h0M143 229h0M157 229h0M159 230h0M167 230h0M172 229h0M174 229h0M181 230h0M183 229h0M192 229h0M201 229h0M220 229h0M222 229h0M34 231h0M35 232h0M51 232h0M56 231h0M62 232h0M128 232h0M139 231h0M157 231h0M163 232h0M172 231h0M174 231h0M185 232h0M197 231h0M198 231h0M216 231h0M219 231h0M231 231h0M35 234h0M38 233h0M49 234h0M55 234h0M58 233h0M62 234h0M69 234h0M124 233h0M136 234h0M152 234h0M156 233h0M159 233h0M163 233h0M170 233h0M179 233h0M181 234h0M196 234h0M199 233h0M207 234h0M214 234h0M230 233h0M36 236h0M40 236h0M45 236h0M47 236h0M55 236h0M62 235h0M117 235h0M123 236h0M157 235h0M161 236h0M167 236h0M171 236h0M174 236h0M177 236h0M183 236h0M188 236h0M194 236h0M201 236h0M205 236h0M207 236h0M212 235h0M37 238h0M45 239h0M122 238h0M128 238h0M137 238h0M157 238h0M159 238h0M161 238h0M174 237h0M177 238h0M192 238h0M205 238h0M227 238h0M42 240h0M49 240h0M54 240h0M57 240h0M59 240h0M62 240h0M64 240h0M125 241h0M128 241h0M130 240h0M137 241h0M139 240h0M145 240h0M178 240h0M211 241h0M222 240h0M47 243h0M49 243h0M51 242h0M62 243h0M126 242h0M155 242h0M167 243h0M172 242h0M174 243h0M181 243h0M183 243h0M188 243h0M189 243h0M209 242h0M44 245h0M48 245h0M119 245h0M141 245h0M155 244h0M156 244h0M162 245h0M177 244h0M185 245h0M189 245h0M198 244h0M201 244h0M47 247h0M49 247h0M113 247h0M117 247h0M119 246h0M121 246h0M128 247h0M134 246h0M152 247h0M157 247h0M164 247h0M165 247h0M167 247h0M186 246h0M188 247h0M189 247h0M194 247h0M200 247h0M207 247h0M118 249h0M122 250h0M125 249h0M131 248h0M137 249h0M150 249h0M152 249h0M161 249h0M179 249h0M181 248h0M183 249h0M205 249h0M128 252h0M133 252h0M135 251h0M137 252h0M142 251h0M147 252h0M154 251h0M156 252h0M159 251h0M161 251h0M165 251h0M186 251h0M188 251h0M196 251h0M203 251h0M130 254h0M132 254h0M152 253h0M155 254h0M156 253h0M183 254h0M186 253h0M198 253h0M62 256h0M122 256h0M128 256h0M132 256h0M135 256h0M143 256h0M145 256h0M159 255h0M201 256h0M73 258h0M135 258h0M136 258h0M144 257h0M152 258h0M154 258h0M157 257h0M161 258h0M198 257h0M66 261h0M75 260h0M80 260h0M121 260h0M123 260h0M126 260h0M128 260h0M132 261h0M144 260h0M145 260h0M154 260h0M159 260h0M196 260h0M200 260h0M66 262h0M78 263h0M80 263h0M84 262h0M86 262h0M133 262h0M135 262h0M139 262h0M141 262h0M143 263h0M148 263h0M150 262h0M153 263h0M156 262h0M198 262h0M216 262h0M220 262h0M66 265h0M74 265h0M76 265h0M133 264h0M134 264h0M141 264h0M144 264h0M150 264h0M153 264h0M156 264h0M198 265h0M219 265h0M67 266h0M70 267h0M77 266h0M80 266h0M84 266h0M86 267h0M89 266h0M92 267h0M132 267h0M142 266h0M148 267h0M152 267h0M154 267h0M203 267h0M206 267h0M207 266h0M216 266h0M220 266h0M229 266h0M231 266h0M66 269h0M71 268h0M82 269h0M84 268h0M97 268h0M139 269h0M145 268h0M148 269h0M153 268h0M207 269h0M218 268h0M222 269h0M229 269h0M69 271h0M76 271h0M78 270h0M82 270h0M86 272h0M95 271h0M98 271h0M134 271h0M139 271h0M216 271h0M69 273h0M78 274h0M81 273h0M93 273h0M95 273h0M134 273h0M146 273h0M150 274h0M154 273h0M158 274h0M227 273h0M229 273h0M80 276h0M86 275h0M92 276h0M141 275h0M145 275h0M159 275h0M220 276h0M73 278h0M86 278h0M91 278h0M143 278h0M148 277h0M150 278h0M158 277h0M217 278h0M222 277h0M227 277h0M233 278h0M76 279h0M77 280h0M79 280h0M93 280h0M135 280h0M137 280h0M144 280h0M218 280h0M221 280h0M225 280h0M227 279h0M231 280h0M233 280h0M80 283h0M142 282h0M211 282h0M214 282h0M216 283h0M218 282h0M220 282h0M225 282h0M229 282h0M233 283h0M235 282h0M81 284h0M139 284h0M142 284h0M148 284h0M216 284h0M225 284h0M227 284h0M229 285h0M238 284h0M71 287h0M87 286h0M214 287h0M216 286h0M218 286h0M220 286h0M223 287h0M78 289h0M212 289h0M229 288h0M236 289h0M73 291h0M71 292h0M73 293h0M75 293h0M76 295h0M78 295h0M71 299h0M76 300h0" stroke="#e6f5ff" stroke-opacity="0.4" stroke-width="0.9" stroke-linecap="round" fill="none"/></g></svg>
<div class="gt">全球</div>
<div class="gbar" style="left:79.7px;top:216.7px;height:33.5px;background:#b6bbd1"></div>
<div class="gbar" style="left:120.1px;top:221.7px;height:28.5px;background:#7a7daa"></div>
<div class="gbar" style="left:161.6px;top:219.7px;height:30.5px;background:#0d1d67"></div>
<div class="abs" style="left:73px;top:250.1px;width:120px;height:2.1px;background:#fff"></div>
<div class="gnum" style="left:66.2px;top:196px">3.3</div>
<div class="gnum" style="left:106.6px;top:201px">2.8</div>
<div class="gnum" style="left:148.1px;top:199px">3.0</div>
<div class="gyr" style="left:70.7px;top:253px">2024</div>
<div class="gyr" style="left:111.6px;top:253px">2025</div>
<div class="gyr" style="left:152.6px;top:253px">2026</div>

<div class="pt" style="left:261.55px;top:158.20px">美国</div>
<div class="bar" style="left:283.30px;top:196.50px;width:20.00px;height:28.50px;background:#f9d6ce"></div>
<div class="num" style="left:273.50px;top:178.80px">2.8</div>
<div class="yr" style="left:278.60px;top:226.40px">2024</div>
<div class="bar" style="left:315.40px;top:207.00px;width:20.00px;height:18.00px;background:#f3aa9c"></div>
<div class="num" style="left:305.60px;top:189.30px">1.8</div>
<div class="yr" style="left:310.70px;top:226.40px">2025</div>
<div class="bar" style="left:346.50px;top:208.00px;width:20.00px;height:17.00px;background:#ef7d6c"></div>
<div class="num" style="left:336.70px;top:190.30px">1.7</div>
<div class="yr" style="left:341.80px;top:226.40px">2026</div>
<div class="base" style="left:277.50px;top:225.00px;width:95.00px"></div>
<div class="pt" style="left:408.45px;top:154.00px">欧元区</div>
<div class="bar" style="left:429.20px;top:197.00px;width:19.50px;height:8.60px;background:#fde2ae"></div>
<div class="num" style="left:419.15px;top:179.30px">0.9</div>
<div class="yr" style="left:424.25px;top:207.00px">2024</div>
<div class="bar" style="left:460.80px;top:198.00px;width:19.50px;height:7.60px;background:#fcc565"></div>
<div class="num" style="left:450.75px;top:180.30px">0.8</div>
<div class="yr" style="left:455.85px;top:207.00px">2025</div>
<div class="bar" style="left:492.50px;top:193.80px;width:19.50px;height:11.80px;background:#f6a70c"></div>
<div class="num" style="left:482.45px;top:176.10px">1.2</div>
<div class="yr" style="left:487.55px;top:207.00px">2026</div>
<div class="base" style="left:423.40px;top:205.60px;width:94.60px"></div>
<div class="pt" style="left:541.35px;top:154.10px">中东和中亚</div>
<div class="bar" style="left:562.20px;top:205.40px;width:19.70px;height:24.60px;background:#dcebc3"></div>
<div class="num" style="left:552.25px;top:187.70px">2.4</div>
<div class="yr" style="left:557.35px;top:231.40px">2024</div>
<div class="bar" style="left:593.30px;top:199.40px;width:19.70px;height:30.60px;background:#a8d670"></div>
<div class="num" style="left:583.35px;top:181.70px">3.0</div>
<div class="yr" style="left:588.45px;top:231.40px">2025</div>
<div class="bar" style="left:625.10px;top:194.30px;width:19.70px;height:35.70px;background:#78bf26"></div>
<div class="num" style="left:615.15px;top:176.60px">3.5</div>
<div class="yr" style="left:620.25px;top:231.40px">2026</div>
<div class="base" style="left:556.40px;top:230.00px;width:94.40px"></div>
<div class="pt" style="left:663.25px;top:143.30px">亚洲新兴市场和</div>
<div class="pt" style="left:663.25px;top:156.30px">发展中经济体</div>
<div class="bar" style="left:681.80px;top:195.70px;width:20.20px;height:54.50px;background:#fdd7b0"></div>
<div class="num" style="left:672.10px;top:178.00px">5.3</div>
<div class="yr" style="left:677.20px;top:251.60px">2024</div>
<div class="bar" style="left:712.70px;top:204.60px;width:20.20px;height:45.60px;background:#fcb064"></div>
<div class="num" style="left:703.00px;top:186.90px">4.5</div>
<div class="yr" style="left:708.10px;top:251.60px">2025</div>
<div class="bar" style="left:743.70px;top:203.70px;width:20.20px;height:46.50px;background:#fb8212"></div>
<div class="num" style="left:734.00px;top:186.00px">4.6</div>
<div class="yr" style="left:739.10px;top:251.60px">2026</div>
<div class="base" style="left:676.00px;top:250.20px;width:93.90px"></div>
<div class="pt" style="left:322.65px;top:281.30px">拉丁美洲和</div>
<div class="pt" style="left:322.65px;top:293.40px">加勒比地区</div>
<div class="bar" style="left:343.80px;top:332.60px;width:19.50px;height:24.10px;background:#f4e9f5"></div>
<div class="num" style="left:333.75px;top:314.90px">2.4</div>
<div class="yr" style="left:338.85px;top:358.10px">2024</div>
<div class="bar" style="left:375.60px;top:336.50px;width:19.50px;height:20.20px;background:#dfc2e5"></div>
<div class="num" style="left:365.55px;top:318.80px">2.0</div>
<div class="yr" style="left:370.65px;top:358.10px">2025</div>
<div class="bar" style="left:407.30px;top:332.60px;width:19.50px;height:24.10px;background:#c295ce"></div>
<div class="num" style="left:397.25px;top:314.90px">2.4</div>
<div class="yr" style="left:402.35px;top:358.10px">2026</div>
<div class="base" style="left:338.00px;top:356.70px;width:94.80px"></div>
<div class="pt" style="left:488.25px;top:256.70px">撒哈拉以南非洲</div>
<div class="bar" style="left:507.80px;top:296.20px;width:20.00px;height:41.10px;background:#b6e7ee"></div>
<div class="num" style="left:498.00px;top:278.50px">4.0</div>
<div class="yr" style="left:503.10px;top:338.70px">2024</div>
<div class="bar" style="left:540.00px;top:297.80px;width:20.00px;height:39.50px;background:#6dd0d5"></div>
<div class="num" style="left:530.20px;top:280.10px">3.8</div>
<div class="yr" style="left:535.30px;top:338.70px">2025</div>
<div class="bar" style="left:571.10px;top:294.00px;width:20.00px;height:43.30px;background:#14acb2"></div>
<div class="num" style="left:561.30px;top:276.30px">4.2</div>
<div class="yr" style="left:566.40px;top:338.70px">2026</div>
<div class="base" style="left:502.00px;top:337.30px;width:95.10px"></div>

<div class="imf"><b>IMF.org/</b><span>pubs</span></div>
<div class="fn" style="top:414.5px">来源：IMF，《世界经济展望》，2025年4月。</div>
<div class="fn" style="top:427px">注释：每一组的柱形从左到右依次表示：2024年、2025年预测值，以及2026年预测值。</div>
</body></html>
